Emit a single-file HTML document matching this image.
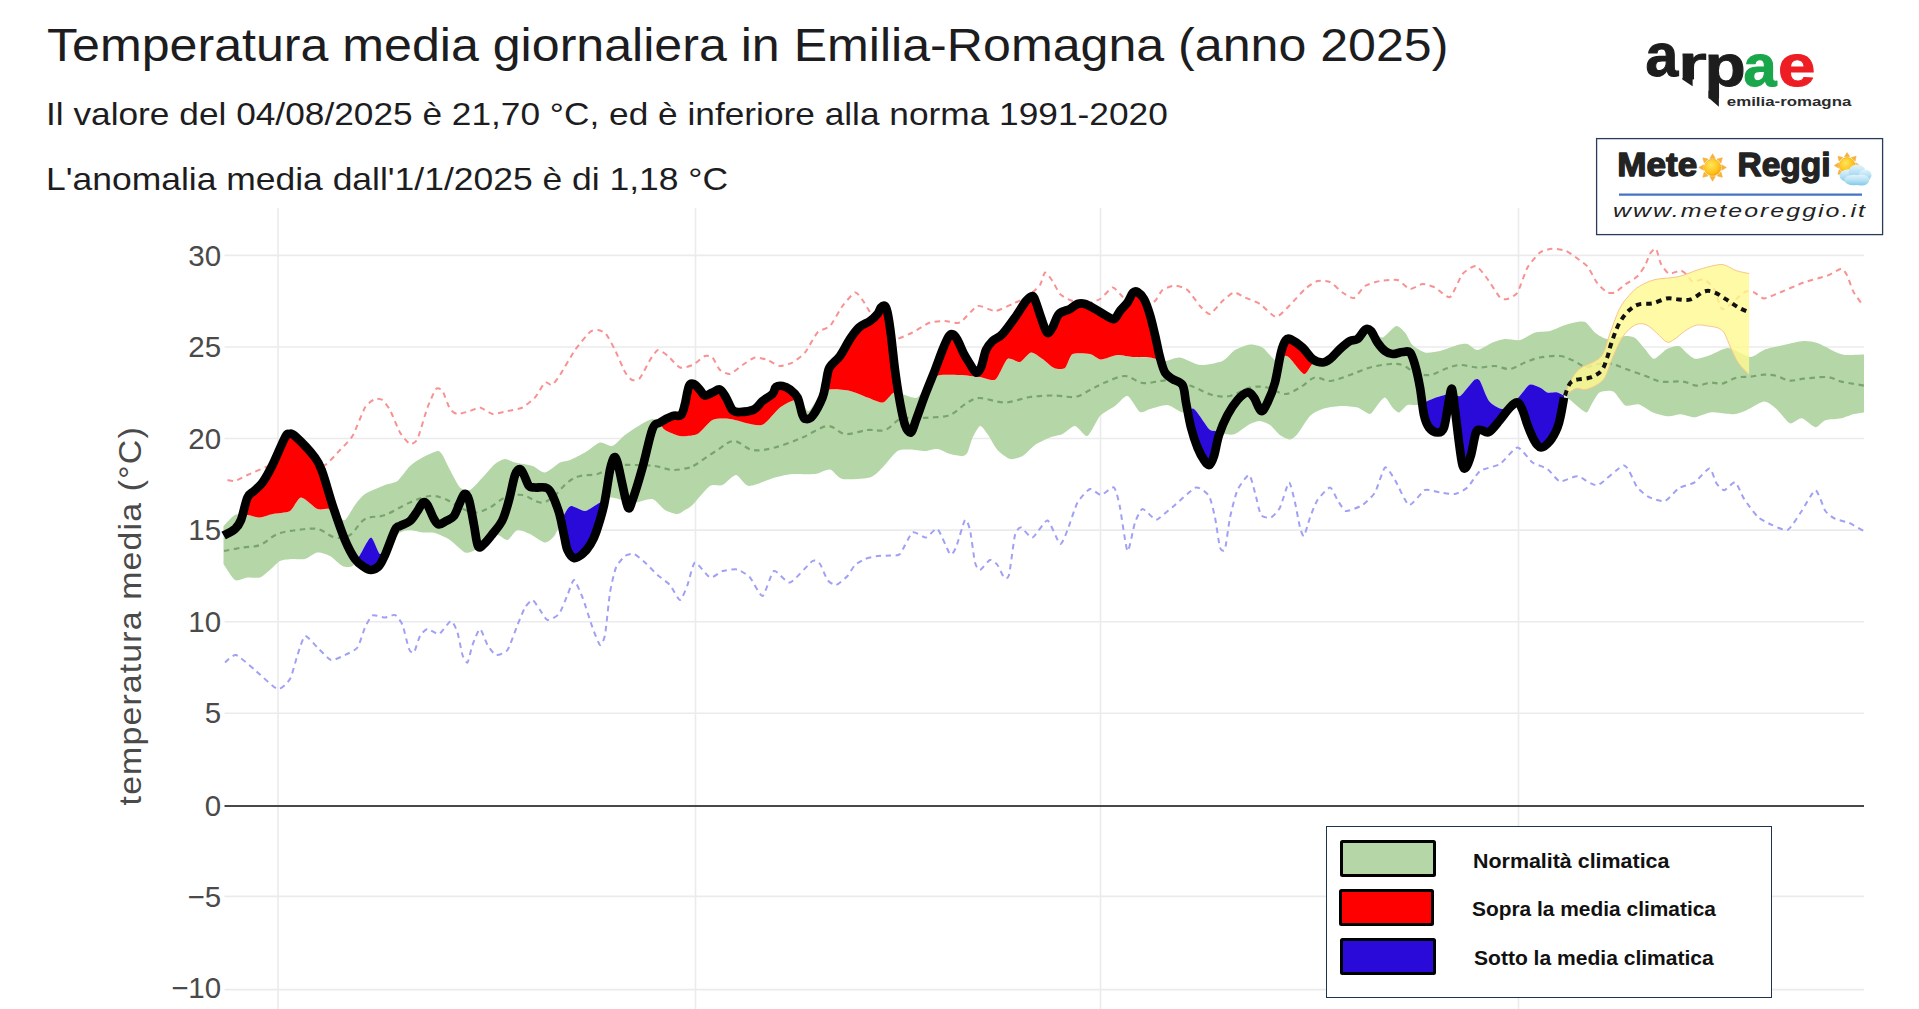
<!DOCTYPE html>
<html lang="it">
<head>
<meta charset="utf-8">
<title>Temperatura media giornaliera in Emilia-Romagna</title>
<style>
html,body{margin:0;padding:0;background:#fff;}
body{width:1919px;height:1009px;position:relative;overflow:hidden;font-family:"Liberation Sans",sans-serif;}
#chart{position:absolute;left:0;top:0;}
#chart text{font-family:"Liberation Sans",sans-serif;}
.t{position:absolute;left:48px;white-space:nowrap;color:#1d1d1f;transform-origin:0 50%;}
#t1{top:19px;left:47px;font-size:45.5px;line-height:54px;transform:scaleX(1.1016);}
#t2{top:95px;left:45.5px;font-size:32px;line-height:38px;transform:scaleX(1.102);}
#t3{top:160px;left:45.5px;font-size:32px;line-height:38px;transform:scaleX(1.108);}
#legend{position:absolute;left:1326px;top:826px;width:446.2px;height:172.3px;border:1.6px solid #1f3350;background:#fff;box-sizing:border-box;}
.sw{position:absolute;width:96.6px;height:37.4px;border:3.9px solid #000;border-radius:2.5px;box-sizing:border-box;}
.lt{position:absolute;font-weight:bold;font-size:20.6px;transform:scaleX(1.015);line-height:24px;color:#111;white-space:nowrap;transform-origin:0 50%;}
#logos{position:absolute;left:0;top:0;}
#logos text{font-family:"Liberation Sans",sans-serif;}
</style>
</head>
<body>
<svg id="chart" width="1919" height="1009" viewBox="0 0 1919 1009">
<defs>
<clipPath id="cBelowLine"><path d="M223.6 535.6 C225.5 534.5 232.1 531.6 235 529 C237.9 526.4 238.9 525.2 241 520 C243.1 514.8 245.3 502.3 247.5 497.5 C249.7 492.7 251.5 493.5 254 491 C256.5 488.5 259.4 486.8 262.5 482.5 C265.6 478.2 268.8 472.5 272.5 465 C276.2 457.5 282.2 442.7 285 437.5 C287.8 432.3 287.3 434.2 289 434 C290.7 433.8 290.7 432.1 295 436 C299.3 439.9 310.4 451.4 315 457.5 C319.6 463.6 319.6 464.6 322.5 472.5 C325.4 480.4 328.8 493.8 332.5 505 C336.2 516.2 341.2 531 345 540 C348.8 549 351.8 554.5 355 559 C358.2 563.5 361.3 565.2 364 567 C366.7 568.8 368.5 570.2 371 570 C373.5 569.8 376.7 568.5 379 566 C381.3 563.5 382.3 561 385 555 C387.7 549 392.5 534.8 395 530 C397.5 525.2 397.5 527.5 400 526 C402.5 524.5 407.1 523.5 410 521 C412.9 518.5 415.3 514.1 417.5 511 C419.7 507.9 421.3 503.5 423 502.5 C424.7 501.5 425.7 502.2 427.5 505 C429.3 507.8 432.1 515.8 434 519 C435.9 522.2 437 524.2 439 524.5 C441 524.8 443.5 522.4 446 521 C448.5 519.6 451.7 519.1 454 516 C456.3 512.9 458.2 506.2 460 502.5 C461.8 498.8 463 494.4 464.5 494 C466 493.6 467.4 494.8 469 500 C470.6 505.2 472.5 517.3 474 525 C475.5 532.7 476.3 542.8 478 546 C479.7 549.2 481.6 546 484 544 C486.4 542 489.4 538 492.5 534 C495.6 530 499.8 525.7 502.5 520 C505.2 514.3 506.9 507.5 509 500 C511.1 492.5 513.2 480.2 515 475 C516.8 469.8 518.5 469 520 469 C521.5 469 522.5 472.2 524 475 C525.5 477.8 527.2 483.9 529 486 C530.8 488.1 532.3 487.2 535 487.5 C537.7 487.8 542.3 486.7 545 487.5 C547.7 488.3 548.7 488.3 551 492.5 C553.3 496.7 556.8 505.4 559 512.5 C561.2 519.6 562.6 528.8 564 535 C565.4 541.2 565.8 546.2 567.5 550 C569.2 553.8 571.5 557.3 574 558 C576.5 558.7 579.8 556.2 582.5 554 C585.2 551.8 587.8 548.6 590 545 C592.2 541.4 593.7 539.2 596 532.5 C598.3 525.8 601.7 515.4 604 505 C606.3 494.6 608.3 477.9 610 470 C611.7 462.1 612.8 458.8 614 457.5 C615.2 456.2 616.1 457.9 617.5 462.5 C618.9 467.1 620.8 477.5 622.5 485 C624.2 492.5 626.3 505 628 507.5 C629.7 510 630.1 506.7 632.5 500 C634.9 493.3 639.2 479.3 642.5 467.5 C645.8 455.7 649.6 436.5 652.5 429 C655.4 421.5 656.7 424.7 660 422.5 C663.3 420.3 669 417.2 672.5 416 C676 414.8 678.9 417 681 415 C683.1 413 683.7 408.8 685 404 C686.3 399.2 687.5 389.3 689 386 C690.5 382.7 692.2 383.3 694 384 C695.8 384.7 698.2 388.1 700 390 C701.8 391.9 702.9 395.1 705 395.5 C707.1 395.9 710 393.5 712.5 392.5 C715 391.5 717.8 388.7 720 389.5 C722.2 390.3 723.9 394.1 726 397.5 C728.1 400.9 730.2 407.6 732.5 410 C734.8 412.4 736.4 412.1 740 412 C743.6 411.9 750.2 411.3 754 409.5 C757.8 407.7 759.4 403.6 762.5 401 C765.6 398.4 770.2 396.3 772.5 394 C774.8 391.7 774.3 388.3 776 387 C777.7 385.7 780.2 385.6 782.5 386 C784.8 386.4 787.5 387.6 790 389.5 C792.5 391.4 795.4 393.2 797.5 397.5 C799.6 401.8 801.1 411.4 802.5 415 C803.9 418.6 804.3 418.8 806 419 C807.7 419.2 809.8 419.6 812.5 416 C815.2 412.4 820.2 403.1 822.5 397.5 C824.8 391.9 824.8 387.5 826 382.5 C827.2 377.5 827.2 371.9 829.5 367.5 C831.8 363.1 836.6 360.8 840 356 C843.4 351.2 846.8 343.8 850 339 C853.2 334.2 855.7 330.5 859 327.5 C862.3 324.5 866.9 323.2 870 321 C873.1 318.8 875.7 316.2 877.5 314 C879.3 311.8 879.8 308.8 881 307.5 C882.2 306.2 883.9 305.2 885 306 C886.1 306.8 886.5 307.7 887.5 312.5 C888.5 317.3 889.8 325.4 891 335 C892.2 344.6 893.5 358.8 895 370 C896.5 381.2 898.3 393.3 900 402.5 C901.7 411.7 903.2 420 905 425 C906.8 430 909.2 433.3 911 432.5 C912.8 431.7 913.5 426.7 916 420 C918.5 413.3 922.8 400.8 926 392.5 C929.2 384.2 932.2 377.1 935 370 C937.8 362.9 940.2 355.7 942.5 350 C944.8 344.3 947.2 338.6 949 336 C950.8 333.4 951.6 333.8 953 334.5 C954.4 335.2 955.7 336.8 957.5 340 C959.3 343.2 961.9 350 964 354 C966.1 358 968 360.9 970 364 C972 367.1 974.2 371.9 976 372.5 C977.8 373.1 979.3 371.2 981 367.5 C982.7 363.8 984.1 354.4 986 350 C987.9 345.6 989.8 343.7 992.5 341 C995.2 338.3 998.8 337.9 1002.5 334 C1006.2 330.1 1011.1 323 1015 317.5 C1018.9 312 1023.1 304.6 1026 301 C1028.9 297.4 1030.8 295.8 1032.5 296 C1034.2 296.2 1034.6 298.9 1036 302.5 C1037.4 306.1 1039.2 312.5 1041 317.5 C1042.8 322.5 1045.1 330.8 1047 332.5 C1048.9 334.2 1050.5 330.6 1052.5 327.5 C1054.5 324.4 1056.1 317.1 1059 314 C1061.9 310.9 1066.9 310.7 1070 309 C1073.1 307.3 1075 304.8 1077.5 304 C1080 303.2 1082.1 303.2 1085 304 C1087.9 304.8 1091.7 307.2 1095 309 C1098.3 310.8 1101.8 313.3 1105 315 C1108.2 316.7 1111.5 319.7 1114 319 C1116.5 318.3 1117.8 313.8 1120 311 C1122.2 308.2 1125.3 305.6 1127.5 302.5 C1129.7 299.4 1131.3 294.2 1133 292.5 C1134.7 290.8 1135.7 290.9 1137.5 292 C1139.3 293.1 1141.9 295.2 1144 299 C1146.1 302.8 1148.2 309 1150 315 C1151.8 321 1153.3 327.9 1155 335 C1156.7 342.1 1158.3 351.2 1160 357.5 C1161.7 363.8 1162.9 368.9 1165 372.5 C1167.1 376.1 1169.6 376.9 1172.5 379 C1175.4 381.1 1180.2 381.1 1182.5 385 C1184.8 388.9 1184.6 395.4 1186 402.5 C1187.4 409.6 1189.1 420 1191 427.5 C1192.9 435 1195.3 442.1 1197.5 447.5 C1199.7 452.9 1202 457.1 1204 460 C1206 462.9 1207.8 465.7 1209.5 465 C1211.2 464.3 1212.4 461 1214 456 C1215.6 451 1216.8 441.8 1219 435 C1221.2 428.2 1224.4 420.8 1227.5 415 C1230.6 409.2 1234.2 403.8 1237.5 400 C1240.8 396.2 1244.8 392.9 1247.5 392.5 C1250.2 392.1 1251.8 394.4 1254 397.5 C1256.2 400.6 1258.8 410.2 1261 411 C1263.2 411.8 1265.2 407.2 1267.5 402.5 C1269.8 397.8 1272.8 390.8 1275 382.5 C1277.2 374.2 1279.2 359.6 1281 352.5 C1282.8 345.4 1284.3 342.2 1286 340 C1287.7 337.8 1288.2 338.2 1291 339.5 C1293.8 340.8 1298.9 344.2 1302.5 347.5 C1306.1 350.8 1309.2 356.5 1312.5 359 C1315.8 361.5 1319.6 362.5 1322.5 362.5 C1325.4 362.5 1327.1 361.2 1330 359 C1332.9 356.8 1336.7 352 1340 349 C1343.3 346 1347.1 342.7 1350 341 C1352.9 339.3 1354.9 340.9 1357.5 339 C1360.1 337.1 1363.2 330.8 1365.5 329.5 C1367.8 328.2 1369 328.8 1371 331 C1373 333.2 1375.2 339.2 1377.5 342.5 C1379.8 345.8 1382.5 349.1 1385 351 C1387.5 352.9 1389.6 353.8 1392.5 354 C1395.4 354.2 1399.6 352.2 1402.5 352 C1405.4 351.8 1407.9 350.3 1410 352.5 C1412.1 354.7 1413.3 359.2 1415 365 C1416.7 370.8 1418.5 379.2 1420 387.5 C1421.5 395.8 1422.5 408.3 1424 415 C1425.5 421.7 1426.8 424.6 1429 427.5 C1431.2 430.4 1435 432.5 1437.5 432.5 C1440 432.5 1442.1 432.9 1444 427.5 C1445.9 422.1 1447.7 406.4 1449 400 C1450.3 393.6 1451 387.3 1452 389 C1453 390.7 1453.8 401.1 1455 410 C1456.2 418.9 1457.8 433.3 1459 442.5 C1460.2 451.7 1461.3 460.8 1462.5 465 C1463.7 469.2 1464.6 469.2 1466 467.5 C1467.4 465.8 1469.3 460.8 1471 455 C1472.7 449.2 1474.3 436.7 1476 432.5 C1477.7 428.3 1478.8 430.1 1481 430 C1483.2 429.9 1485.8 433.7 1489 432 C1492.2 430.3 1496.5 424.1 1500 420 C1503.5 415.9 1507.1 410.4 1510 407.5 C1512.9 404.6 1515.4 402.1 1517.5 402.5 C1519.6 402.9 1520.8 406.2 1522.5 410 C1524.2 413.8 1525.6 420 1527.5 425 C1529.4 430 1531.8 436.2 1534 440 C1536.2 443.8 1538.3 447.3 1541 447.5 C1543.7 447.7 1547.2 444.3 1550 441 C1552.8 437.7 1555.7 432 1557.5 427.5 C1559.3 423 1559.9 419 1561 414 C1562.1 409 1563.5 400.2 1564 397.5 L1564 1009 L223 1009 Z"/></clipPath>
<clipPath id="cAboveLine"><path d="M223.6 535.6 C225.5 534.5 232.1 531.6 235 529 C237.9 526.4 238.9 525.2 241 520 C243.1 514.8 245.3 502.3 247.5 497.5 C249.7 492.7 251.5 493.5 254 491 C256.5 488.5 259.4 486.8 262.5 482.5 C265.6 478.2 268.8 472.5 272.5 465 C276.2 457.5 282.2 442.7 285 437.5 C287.8 432.3 287.3 434.2 289 434 C290.7 433.8 290.7 432.1 295 436 C299.3 439.9 310.4 451.4 315 457.5 C319.6 463.6 319.6 464.6 322.5 472.5 C325.4 480.4 328.8 493.8 332.5 505 C336.2 516.2 341.2 531 345 540 C348.8 549 351.8 554.5 355 559 C358.2 563.5 361.3 565.2 364 567 C366.7 568.8 368.5 570.2 371 570 C373.5 569.8 376.7 568.5 379 566 C381.3 563.5 382.3 561 385 555 C387.7 549 392.5 534.8 395 530 C397.5 525.2 397.5 527.5 400 526 C402.5 524.5 407.1 523.5 410 521 C412.9 518.5 415.3 514.1 417.5 511 C419.7 507.9 421.3 503.5 423 502.5 C424.7 501.5 425.7 502.2 427.5 505 C429.3 507.8 432.1 515.8 434 519 C435.9 522.2 437 524.2 439 524.5 C441 524.8 443.5 522.4 446 521 C448.5 519.6 451.7 519.1 454 516 C456.3 512.9 458.2 506.2 460 502.5 C461.8 498.8 463 494.4 464.5 494 C466 493.6 467.4 494.8 469 500 C470.6 505.2 472.5 517.3 474 525 C475.5 532.7 476.3 542.8 478 546 C479.7 549.2 481.6 546 484 544 C486.4 542 489.4 538 492.5 534 C495.6 530 499.8 525.7 502.5 520 C505.2 514.3 506.9 507.5 509 500 C511.1 492.5 513.2 480.2 515 475 C516.8 469.8 518.5 469 520 469 C521.5 469 522.5 472.2 524 475 C525.5 477.8 527.2 483.9 529 486 C530.8 488.1 532.3 487.2 535 487.5 C537.7 487.8 542.3 486.7 545 487.5 C547.7 488.3 548.7 488.3 551 492.5 C553.3 496.7 556.8 505.4 559 512.5 C561.2 519.6 562.6 528.8 564 535 C565.4 541.2 565.8 546.2 567.5 550 C569.2 553.8 571.5 557.3 574 558 C576.5 558.7 579.8 556.2 582.5 554 C585.2 551.8 587.8 548.6 590 545 C592.2 541.4 593.7 539.2 596 532.5 C598.3 525.8 601.7 515.4 604 505 C606.3 494.6 608.3 477.9 610 470 C611.7 462.1 612.8 458.8 614 457.5 C615.2 456.2 616.1 457.9 617.5 462.5 C618.9 467.1 620.8 477.5 622.5 485 C624.2 492.5 626.3 505 628 507.5 C629.7 510 630.1 506.7 632.5 500 C634.9 493.3 639.2 479.3 642.5 467.5 C645.8 455.7 649.6 436.5 652.5 429 C655.4 421.5 656.7 424.7 660 422.5 C663.3 420.3 669 417.2 672.5 416 C676 414.8 678.9 417 681 415 C683.1 413 683.7 408.8 685 404 C686.3 399.2 687.5 389.3 689 386 C690.5 382.7 692.2 383.3 694 384 C695.8 384.7 698.2 388.1 700 390 C701.8 391.9 702.9 395.1 705 395.5 C707.1 395.9 710 393.5 712.5 392.5 C715 391.5 717.8 388.7 720 389.5 C722.2 390.3 723.9 394.1 726 397.5 C728.1 400.9 730.2 407.6 732.5 410 C734.8 412.4 736.4 412.1 740 412 C743.6 411.9 750.2 411.3 754 409.5 C757.8 407.7 759.4 403.6 762.5 401 C765.6 398.4 770.2 396.3 772.5 394 C774.8 391.7 774.3 388.3 776 387 C777.7 385.7 780.2 385.6 782.5 386 C784.8 386.4 787.5 387.6 790 389.5 C792.5 391.4 795.4 393.2 797.5 397.5 C799.6 401.8 801.1 411.4 802.5 415 C803.9 418.6 804.3 418.8 806 419 C807.7 419.2 809.8 419.6 812.5 416 C815.2 412.4 820.2 403.1 822.5 397.5 C824.8 391.9 824.8 387.5 826 382.5 C827.2 377.5 827.2 371.9 829.5 367.5 C831.8 363.1 836.6 360.8 840 356 C843.4 351.2 846.8 343.8 850 339 C853.2 334.2 855.7 330.5 859 327.5 C862.3 324.5 866.9 323.2 870 321 C873.1 318.8 875.7 316.2 877.5 314 C879.3 311.8 879.8 308.8 881 307.5 C882.2 306.2 883.9 305.2 885 306 C886.1 306.8 886.5 307.7 887.5 312.5 C888.5 317.3 889.8 325.4 891 335 C892.2 344.6 893.5 358.8 895 370 C896.5 381.2 898.3 393.3 900 402.5 C901.7 411.7 903.2 420 905 425 C906.8 430 909.2 433.3 911 432.5 C912.8 431.7 913.5 426.7 916 420 C918.5 413.3 922.8 400.8 926 392.5 C929.2 384.2 932.2 377.1 935 370 C937.8 362.9 940.2 355.7 942.5 350 C944.8 344.3 947.2 338.6 949 336 C950.8 333.4 951.6 333.8 953 334.5 C954.4 335.2 955.7 336.8 957.5 340 C959.3 343.2 961.9 350 964 354 C966.1 358 968 360.9 970 364 C972 367.1 974.2 371.9 976 372.5 C977.8 373.1 979.3 371.2 981 367.5 C982.7 363.8 984.1 354.4 986 350 C987.9 345.6 989.8 343.7 992.5 341 C995.2 338.3 998.8 337.9 1002.5 334 C1006.2 330.1 1011.1 323 1015 317.5 C1018.9 312 1023.1 304.6 1026 301 C1028.9 297.4 1030.8 295.8 1032.5 296 C1034.2 296.2 1034.6 298.9 1036 302.5 C1037.4 306.1 1039.2 312.5 1041 317.5 C1042.8 322.5 1045.1 330.8 1047 332.5 C1048.9 334.2 1050.5 330.6 1052.5 327.5 C1054.5 324.4 1056.1 317.1 1059 314 C1061.9 310.9 1066.9 310.7 1070 309 C1073.1 307.3 1075 304.8 1077.5 304 C1080 303.2 1082.1 303.2 1085 304 C1087.9 304.8 1091.7 307.2 1095 309 C1098.3 310.8 1101.8 313.3 1105 315 C1108.2 316.7 1111.5 319.7 1114 319 C1116.5 318.3 1117.8 313.8 1120 311 C1122.2 308.2 1125.3 305.6 1127.5 302.5 C1129.7 299.4 1131.3 294.2 1133 292.5 C1134.7 290.8 1135.7 290.9 1137.5 292 C1139.3 293.1 1141.9 295.2 1144 299 C1146.1 302.8 1148.2 309 1150 315 C1151.8 321 1153.3 327.9 1155 335 C1156.7 342.1 1158.3 351.2 1160 357.5 C1161.7 363.8 1162.9 368.9 1165 372.5 C1167.1 376.1 1169.6 376.9 1172.5 379 C1175.4 381.1 1180.2 381.1 1182.5 385 C1184.8 388.9 1184.6 395.4 1186 402.5 C1187.4 409.6 1189.1 420 1191 427.5 C1192.9 435 1195.3 442.1 1197.5 447.5 C1199.7 452.9 1202 457.1 1204 460 C1206 462.9 1207.8 465.7 1209.5 465 C1211.2 464.3 1212.4 461 1214 456 C1215.6 451 1216.8 441.8 1219 435 C1221.2 428.2 1224.4 420.8 1227.5 415 C1230.6 409.2 1234.2 403.8 1237.5 400 C1240.8 396.2 1244.8 392.9 1247.5 392.5 C1250.2 392.1 1251.8 394.4 1254 397.5 C1256.2 400.6 1258.8 410.2 1261 411 C1263.2 411.8 1265.2 407.2 1267.5 402.5 C1269.8 397.8 1272.8 390.8 1275 382.5 C1277.2 374.2 1279.2 359.6 1281 352.5 C1282.8 345.4 1284.3 342.2 1286 340 C1287.7 337.8 1288.2 338.2 1291 339.5 C1293.8 340.8 1298.9 344.2 1302.5 347.5 C1306.1 350.8 1309.2 356.5 1312.5 359 C1315.8 361.5 1319.6 362.5 1322.5 362.5 C1325.4 362.5 1327.1 361.2 1330 359 C1332.9 356.8 1336.7 352 1340 349 C1343.3 346 1347.1 342.7 1350 341 C1352.9 339.3 1354.9 340.9 1357.5 339 C1360.1 337.1 1363.2 330.8 1365.5 329.5 C1367.8 328.2 1369 328.8 1371 331 C1373 333.2 1375.2 339.2 1377.5 342.5 C1379.8 345.8 1382.5 349.1 1385 351 C1387.5 352.9 1389.6 353.8 1392.5 354 C1395.4 354.2 1399.6 352.2 1402.5 352 C1405.4 351.8 1407.9 350.3 1410 352.5 C1412.1 354.7 1413.3 359.2 1415 365 C1416.7 370.8 1418.5 379.2 1420 387.5 C1421.5 395.8 1422.5 408.3 1424 415 C1425.5 421.7 1426.8 424.6 1429 427.5 C1431.2 430.4 1435 432.5 1437.5 432.5 C1440 432.5 1442.1 432.9 1444 427.5 C1445.9 422.1 1447.7 406.4 1449 400 C1450.3 393.6 1451 387.3 1452 389 C1453 390.7 1453.8 401.1 1455 410 C1456.2 418.9 1457.8 433.3 1459 442.5 C1460.2 451.7 1461.3 460.8 1462.5 465 C1463.7 469.2 1464.6 469.2 1466 467.5 C1467.4 465.8 1469.3 460.8 1471 455 C1472.7 449.2 1474.3 436.7 1476 432.5 C1477.7 428.3 1478.8 430.1 1481 430 C1483.2 429.9 1485.8 433.7 1489 432 C1492.2 430.3 1496.5 424.1 1500 420 C1503.5 415.9 1507.1 410.4 1510 407.5 C1512.9 404.6 1515.4 402.1 1517.5 402.5 C1519.6 402.9 1520.8 406.2 1522.5 410 C1524.2 413.8 1525.6 420 1527.5 425 C1529.4 430 1531.8 436.2 1534 440 C1536.2 443.8 1538.3 447.3 1541 447.5 C1543.7 447.7 1547.2 444.3 1550 441 C1552.8 437.7 1555.7 432 1557.5 427.5 C1559.3 423 1559.9 419 1561 414 C1562.1 409 1563.5 400.2 1564 397.5 L1564 0 L223 0 Z"/></clipPath>
<clipPath id="cAboveUpper"><path d="M223.5 526 C224.8 524.7 232.2 516.3 235 515 C237.8 513.7 244.6 514.7 247.5 515 C250.4 515.3 257.1 517.6 260 517.5 C262.9 517.4 269 514.8 272.5 514 C276 513.2 286.7 512.9 290 511 C293.3 509.1 297.8 497.7 301 497.5 C304.2 497.3 314.2 507.7 317.5 509 C320.8 510.3 326.8 508.3 329 509 C331.2 509.7 334.1 513.7 336 515 C337.9 516.3 342.8 521.2 345 520 C347.2 518.8 352.7 508 355 505 C357.3 502 361.5 496.3 365 494 C368.5 491.7 381.2 486.5 385 485 C388.8 483.5 394.6 483.2 397.5 481 C400.4 478.8 407.1 468.7 410 466 C412.9 463.3 419.3 459.2 422.5 457.5 C425.7 455.8 435.2 451.3 437.5 451 C439.8 450.7 441 452.8 442.5 455 C444 457.2 448 466.2 450 470 C452 473.8 457.7 485.2 460 487.5 C462.3 489.8 467.4 491.2 470 490 C472.6 488.8 479.6 480.5 482.5 477.5 C485.4 474.5 492.4 466.2 495 464 C497.6 461.8 502.7 459.2 505 459 C507.3 458.8 511.8 461.7 515 462.5 C518.2 463.3 529 464.8 532.5 466 C536 467.2 541.8 472.9 545 472.5 C548.2 472.1 557.1 464 560 462.5 C562.9 461 567.1 461.2 570 460 C572.9 458.8 581.5 454.5 585 452.5 C588.5 450.5 596.8 443.3 600 442.5 C603.2 441.7 609.6 446.9 612.5 446 C615.4 445.1 621.8 437.4 625 435 C628.2 432.6 636.8 426.9 640 425 C643.2 423.1 650.2 419.1 652.5 419 C654.8 418.9 658.5 422.7 660 424 C661.5 425.3 662.7 428.6 665 430 C667.3 431.4 676.2 435.5 680 436 C683.8 436.5 693.7 435.9 697.5 434 C701.3 432.1 708.7 421.8 712.5 420 C716.3 418.2 725.3 418.5 730 419 C734.7 419.5 748.5 423.9 752.5 424.5 C756.5 425.1 760.8 426 764 424 C767.2 422 776.4 410.3 780 407.5 C783.6 404.7 792.3 400.3 795 400 C797.7 399.7 801.4 403.7 803 405 C804.6 406.3 807 412.2 809 411 C811 409.8 817.5 397.5 820 395 C822.5 392.5 826.5 390 830 389.5 C833.5 389 845.6 390.1 850 391 C854.4 391.9 863.6 396.2 867.5 397.5 C871.4 398.8 879.9 403.1 883 402.5 C886.1 401.9 891.4 393.4 894 392.5 C896.6 391.6 902.3 394.4 905 395 C907.7 395.6 914.6 399.2 917.5 397.5 C920.4 395.8 927.4 382.6 930 380 C932.6 377.4 936.5 375.6 940 375 C943.5 374.4 955.3 374.8 960 375 C964.7 375.2 975.9 376.5 980 377 C984.1 377.5 992.3 381.6 995.5 379.5 C998.7 377.4 1004.6 361 1007.5 359 C1010.4 357 1017.3 362.8 1020 362 C1022.7 361.2 1028.4 352.9 1031 352.5 C1033.6 352.1 1039.8 357.2 1042.5 359 C1045.2 360.8 1051.4 366.9 1054 368 C1056.6 369.1 1062.8 369.6 1065 368 C1067.2 366.4 1069.6 355.6 1072.5 354 C1075.4 352.4 1086.7 353.4 1090 354 C1093.3 354.6 1097.8 359.4 1101 359.5 C1104.2 359.6 1113.8 355.3 1117.5 355 C1121.2 354.7 1128.7 356.7 1132.5 357 C1136.3 357.3 1146.2 357 1150 357.5 C1153.8 358 1161.5 361 1165 361 C1168.5 361 1175.9 357 1180 357.5 C1184.1 358 1195 364.6 1200 365 C1205 365.4 1218.4 362.8 1222.5 361 C1226.6 359.2 1231.8 351.9 1235 350 C1238.2 348.1 1246.8 344.8 1250 344.5 C1253.2 344.2 1259.6 345.7 1262.5 347.5 C1265.4 349.3 1272.7 359 1275 360 C1277.3 361 1280.4 356.3 1282 356 C1283.6 355.7 1286.4 355.4 1289 357.5 C1291.6 359.6 1301.3 373.2 1304 374 C1306.7 374.8 1310.4 365.2 1312.5 364 C1314.6 362.8 1320 364.6 1322 364 C1324 363.4 1327.9 361 1330 359 C1332.1 357 1337.7 349.3 1340 347 C1342.3 344.7 1348 340.3 1350 339 C1352 337.7 1355.6 337.3 1357.5 336 C1359.4 334.7 1364.3 328.7 1366 328 C1367.7 327.3 1370.1 328.9 1372 330 C1373.9 331.1 1379.7 338 1382.5 337.5 C1385.3 337 1393.4 326.6 1396 326 C1398.6 325.4 1403.1 330.3 1405 332.5 C1406.9 334.7 1410.2 342.7 1412.5 345 C1414.8 347.3 1421.8 351.8 1425 352.5 C1428.2 353.2 1436.2 351.9 1440 351 C1443.8 350.1 1454.3 345.8 1457.5 345 C1460.7 344.2 1465.2 343.4 1467.5 344 C1469.8 344.6 1474.6 350.2 1477.5 350 C1480.4 349.8 1489.3 343.8 1492.5 342.5 C1495.7 341.2 1501.8 339.3 1505 339 C1508.2 338.7 1516.5 340.8 1520 340 C1523.5 339.2 1531.5 333.6 1535 332.5 C1538.5 331.4 1546.5 331.9 1550 331 C1553.5 330.1 1563.2 325.7 1565 325 L1565 0 L223 0 Z"/></clipPath>
<clipPath id="cBelowLower"><path d="M223.5 564 C224.8 565.9 232.2 578.4 235 580 C237.8 581.6 244.6 577.8 247.5 577.5 C250.4 577.2 257.4 578.4 260 577.5 C262.6 576.6 267.7 571.9 270 570 C272.3 568.1 277.4 562.3 280 561 C282.6 559.7 289.6 559.2 292.5 559 C295.4 558.8 302.1 559.8 305 559 C307.9 558.2 314.6 552.9 317.5 552.5 C320.4 552.1 327.1 554.4 330 556 C332.9 557.6 339.9 564.8 342.5 566 C345.1 567.2 350.5 567.3 352.5 566 C354.5 564.7 357.8 558.3 360 555 C362.2 551.7 368.7 537.6 371 537.5 C373.3 537.4 378 553.1 380 554 C382 554.9 385.7 547.5 388 545 C390.3 542.5 397.4 534.2 400 532.5 C402.6 530.8 407.4 530 410 530 C412.6 530 419.6 532.1 422.5 532.5 C425.4 532.9 431.8 532.1 435 533 C438.2 533.9 446.5 537.7 450 540 C453.5 542.3 462.1 551.3 465 552.5 C467.9 553.7 472.7 551.5 475 550 C477.3 548.5 482.4 541.8 485 540 C487.6 538.2 494.9 535 497.5 535 C500.1 535 505.2 540.6 507.5 540 C509.8 539.4 514.9 530.7 517.5 530 C520.1 529.3 526.8 532.5 530 534 C533.2 535.5 542.1 542.4 545 542.5 C547.9 542.6 552.8 538.2 555 535 C557.2 531.8 562.1 518.4 564 515 C565.9 511.6 568.5 506.5 571 506 C573.5 505.5 581.9 511.2 585 511 C588.1 510.8 594.6 505.6 597.5 504 C600.4 502.4 607.1 498 610 497.5 C612.9 497 619.6 499.4 622.5 500 C625.4 500.6 631.5 502.6 635 502.5 C638.5 502.4 649 498.1 652.5 499 C656 499.9 662.1 508.2 665 510 C667.9 511.8 675.2 514 677.5 514 C679.8 514 683.2 511.1 685 510 C686.8 508.9 689.6 507.8 692.5 505 C695.4 502.2 706.5 488.3 710 486 C713.5 483.7 719.5 486.3 722.5 485 C725.5 483.7 732.9 474.9 736 475 C739.1 475.1 744.5 485.7 749 486 C753.5 486.3 769.9 478.9 775 477.5 C780.1 476.1 787.8 474.4 792.5 474 C797.2 473.6 810.6 474.5 815 474 C819.4 473.5 826.8 468.9 830 469.5 C833.2 470.1 837.8 478.1 842.5 479 C847.2 479.9 865.3 478.8 870 477.5 C874.7 476.2 879.3 470.6 882.5 467.5 C885.7 464.4 894.3 453.1 897.5 451 C900.7 448.9 906.8 449.5 910 449.5 C913.2 449.5 921.8 451.1 925 451 C928.2 450.9 934.6 448.6 937.5 449 C940.4 449.4 947.1 453.2 950 454 C952.9 454.8 960.5 456.2 962.5 456 C964.5 455.8 966.3 454.6 967.5 452.5 C968.7 450.4 971 441.1 972.5 438 C974 434.9 978.2 426.5 980 426 C981.8 425.5 985.5 431.2 987.5 434 C989.5 436.8 994.9 447.1 997.5 450 C1000.1 452.9 1007.1 458.3 1010 459 C1012.9 459.7 1019.6 457.6 1022.5 456 C1025.4 454.4 1031.8 447.2 1035 445 C1038.2 442.8 1046.8 438.8 1050 437.5 C1053.2 436.2 1059.6 435.3 1062.5 434 C1065.4 432.7 1072.1 425.8 1075 426 C1077.9 426.2 1084.6 437.2 1087.5 436 C1090.4 434.8 1096.8 419.5 1100 416 C1103.2 412.5 1111.8 408.3 1115 406 C1118.2 403.7 1124.6 395.3 1127.5 396 C1130.4 396.7 1137.4 410.5 1140 412 C1142.6 413.5 1146.8 409.8 1150 409 C1153.2 408.2 1163.7 404.6 1167.5 405 C1171.3 405.4 1179.4 412 1182.5 412.5 C1185.6 413 1190.9 407.1 1194 409 C1197.1 410.9 1206.5 426.4 1209 429 C1211.5 431.6 1213.1 430.4 1215 431 C1216.9 431.6 1222.7 433.6 1225 434 C1227.3 434.4 1232.1 435.2 1235 434 C1237.9 432.8 1247.1 425.5 1250 424 C1252.9 422.5 1257.7 420.9 1260 421 C1262.3 421.1 1267.7 423.4 1270 425 C1272.3 426.6 1277.7 433.3 1280 435 C1282.3 436.7 1288 439.6 1290 439.5 C1292 439.4 1295.2 436.7 1297.5 434 C1299.8 431.3 1307.1 418.9 1310 416 C1312.9 413.1 1319 410.2 1322.5 409 C1326 407.8 1335.9 406.2 1340 406 C1344.1 405.8 1354 406.6 1357.5 407.5 C1361 408.4 1367.7 414.3 1370 414 C1372.3 413.7 1375.8 406.9 1377.5 405 C1379.2 403.1 1383.2 397.2 1385 397.5 C1386.8 397.8 1390.9 405.8 1392.5 407.5 C1394.1 409.2 1397.2 412.8 1399 412.5 C1400.8 412.2 1405.3 405.9 1407.5 405 C1409.7 404.1 1415.2 405.5 1417.5 405 C1419.8 404.5 1425.2 401.9 1427.5 401 C1429.8 400.1 1434.9 397.8 1437.5 397 C1440.1 396.2 1447.4 394.1 1450 394 C1452.6 393.9 1457.8 396.9 1460 396 C1462.2 395.1 1467.2 387.9 1469 386 C1470.8 384.1 1473.7 380.1 1475 379.5 C1476.3 378.9 1478.4 378.5 1480 381 C1481.6 383.5 1486.4 397.7 1489 401 C1491.6 404.3 1499.3 409.1 1502.5 409 C1505.7 408.9 1513.7 401.9 1516 400 C1518.3 398.1 1520.9 394.3 1522.5 392.5 C1524.1 390.7 1528 385.1 1530 384.5 C1532 383.9 1538 386.6 1540 387.5 C1542 388.4 1545.5 391.9 1547.5 392.5 C1549.5 393.1 1555.4 392 1557.5 392.5 C1559.6 393 1564.8 396 1565.8 396.5 L1565.8 1009 L223 1009 Z"/></clipPath>
</defs>
<g stroke="#ebebed" stroke-width="1.6" fill="none"><line x1="278" y1="208" x2="278" y2="1009"/><line x1="695.5" y1="208" x2="695.5" y2="1009"/><line x1="1100.5" y1="208" x2="1100.5" y2="1009"/><line x1="1518.5" y1="208" x2="1518.5" y2="1009"/><line x1="224.5" y1="255.4" x2="1864" y2="255.4"/><line x1="224.5" y1="347" x2="1864" y2="347"/><line x1="224.5" y1="438.5" x2="1864" y2="438.5"/><line x1="224.5" y1="530.1" x2="1864" y2="530.1"/><line x1="224.5" y1="621.7" x2="1864" y2="621.7"/><line x1="224.5" y1="713.2" x2="1864" y2="713.2"/><line x1="224.5" y1="896.4" x2="1864" y2="896.4"/><line x1="224.5" y1="989.6" x2="1864" y2="989.6"/></g>
<line x1="224.5" y1="806" x2="1864" y2="806" stroke="#484848" stroke-width="2"/>
<path d="M227.5 480 C228.2 480.1 233 481.5 235 481 C237 480.5 244.5 476.4 247.5 475 C250.5 473.6 261.8 468.8 265 467.5 C268.2 466.2 276.5 462.9 280 462 C283.5 461.1 296.8 458 300 458 C303.2 458 309.5 461.3 312 462 C314.5 462.7 322.2 466.2 325 465 C327.8 463.8 337.2 452.9 340 450 C342.8 447.1 350 440.2 352.5 436 C355 431.8 362.8 411.2 365 407.5 C367.2 403.8 373.2 399.8 375 399 C376.8 398.2 381 398.9 382.5 400 C384 401.1 388.2 406.8 390 410 C391.8 413.2 398 429.1 400 432.5 C402 435.9 408.2 443.4 410 444 C411.8 444.6 415.8 442.6 417.5 439 C419.2 435.4 425.6 412.5 427.5 407.5 C429.4 402.5 434.5 390.6 436 389 C437.5 387.4 441.1 389 442.5 391 C443.9 393 448.5 406.7 450 409 C451.5 411.3 455.5 413.8 457.5 414 C459.5 414.2 467.8 411.6 470 411 C472.2 410.4 477.8 407.2 480 407.5 C482.2 407.8 489.8 413.6 492.5 414 C495.2 414.4 504.5 411.6 507.5 411 C510.5 410.4 519.8 408.9 522.5 407.5 C525.2 406.1 532.8 400 535 397.5 C537.2 395 543.3 383.8 545 382.5 C546.7 381.2 550.5 385.8 552 385 C553.5 384.2 557.7 378.5 560 375 C562.3 371.5 572 354.3 575 350 C578 345.7 587.7 334 590 332 C592.3 330 596.4 329.8 598 330 C599.6 330.2 604.3 332 606 334 C607.7 336 613.1 346.2 615 350 C616.9 353.8 623.3 369 625 372 C626.7 375 630.5 379.4 632 380 C633.5 380.6 638.2 380 640 378 C641.8 376 648.2 362.8 650 360 C651.8 357.2 656.2 350.4 658 350 C659.8 349.6 665.8 354.2 668 356 C670.2 357.8 677.5 366.6 680 367.5 C682.5 368.4 690 366.1 692.5 365 C695 363.9 703 356.8 705 356 C707 355.2 711 356.1 712.5 357.5 C714 358.9 718.2 368.4 720 370 C721.8 371.6 727.8 374.5 730 374 C732.2 373.5 740 366.6 742.5 365 C745 363.4 752.5 358 755 357.5 C757.5 357 765 359.1 767.5 360 C770 360.9 777.5 365.8 780 366 C782.5 366.2 790 363.9 792.5 362.5 C795 361.1 802.5 355.5 805 352.5 C807.5 349.5 815 335.1 817.5 332.5 C820 329.9 827.5 328.6 830 326 C832.5 323.4 840 309.4 842.5 306 C845 302.6 853 293.1 855 292.5 C857 291.9 860.9 297.9 862.5 300 C864.1 302.1 869.2 311 871 314 C872.8 317 878.3 327.4 880 330 C881.7 332.6 886.2 339.1 888 340 C889.8 340.9 895 339.8 897.5 339 C900 338.2 909.2 334.1 912.5 332.5 C915.8 330.9 926.8 323.6 930 322.5 C933.2 321.4 942 321 945 321 C948 321 956.8 324 960 322.5 C963.2 321 974 307.1 977.5 306 C981 304.9 991.5 311.2 995 311 C998.5 310.8 1009.2 305.5 1012.5 304 C1015.8 302.5 1025.2 297.9 1028 296 C1030.8 294.1 1038.3 287.4 1040 285 C1041.7 282.6 1043.8 272.9 1045 272.5 C1046.2 272.1 1051 278.9 1052.5 281 C1054 283.1 1058.2 292.1 1060 294 C1061.8 295.9 1067.5 299 1070 300 C1072.5 301 1082 304.1 1085 304 C1088 303.9 1097.2 300.6 1100 299 C1102.8 297.4 1110.5 288 1112.5 287.5 C1114.5 287 1118.2 292.4 1120 294 C1121.8 295.6 1127.5 302.8 1130 304 C1132.5 305.2 1142.5 306.3 1145 306 C1147.5 305.7 1153.2 302.6 1155 301 C1156.8 299.4 1160.5 291.6 1162.5 290 C1164.5 288.4 1172.5 285.5 1175 285.5 C1177.5 285.5 1185 287.9 1187.5 290 C1190 292.1 1197.8 303.6 1200 306 C1202.2 308.4 1207.8 314.5 1210 314 C1212.2 313.5 1220.1 303.1 1222.5 301 C1224.9 298.9 1231.8 292.9 1234 292.5 C1236.2 292.1 1242.4 296.4 1245 297.5 C1247.6 298.6 1256.9 302.1 1260 304 C1263.1 305.9 1273 316.9 1276 317 C1279 317.1 1287.1 307.8 1290 305 C1292.9 302.2 1302.2 291.4 1305 289 C1307.8 286.6 1315 281.7 1317.5 281 C1320 280.3 1327.5 280.9 1330 282 C1332.5 283.1 1340.1 290.9 1342.5 292.5 C1344.9 294.1 1351.8 298.6 1354 298 C1356.2 297.4 1362.4 287.7 1365 286 C1367.6 284.3 1376.8 281.6 1380 281 C1383.2 280.4 1394.5 279.2 1397.5 280 C1400.5 280.8 1407.5 288.6 1410 289 C1412.5 289.4 1420 284.1 1422.5 284 C1425 283.9 1432.2 286.2 1435 287.5 C1437.8 288.8 1447.2 298.4 1450 297 C1452.8 295.6 1459.9 277.1 1462.5 274 C1465.1 270.9 1473.5 265.5 1476 266 C1478.5 266.5 1485.1 275.9 1487.5 279 C1489.9 282.1 1498 295.5 1500 297.5 C1502 299.5 1505.8 299.5 1507.5 299 C1509.2 298.5 1515.5 295.6 1517.5 292.5 C1519.5 289.4 1525.2 271.5 1527.5 267.5 C1529.8 263.5 1537.6 254.4 1540 252.5 C1542.4 250.6 1549.3 249 1551.9 248.8 C1554.5 248.6 1563.2 249.8 1565.8 250.8 C1568.4 251.8 1575.5 257.1 1577.7 258.7 C1579.9 260.3 1585.6 264.2 1587.6 266.7 C1589.6 269.2 1595.5 280.9 1597.5 283.5 C1599.5 286.1 1605.6 291.5 1607.4 292.4 C1609.2 293.3 1613.5 293.2 1615.3 292.4 C1617.1 291.6 1623 286.1 1625.2 284.5 C1627.4 282.9 1635.1 278.5 1637.1 276.6 C1639.1 274.7 1643.7 268 1645 265.7 C1646.3 263.4 1648.9 255.5 1650 253.8 C1651.1 252.1 1654.9 247.8 1656 248.8 C1657.1 249.8 1659.6 261.2 1660.9 263.7 C1662.2 266.2 1666.8 272.9 1668.8 273.6 C1670.8 274.3 1678.9 270.5 1680.7 270.6 C1682.5 270.7 1685.5 273.5 1686.7 274.6 C1687.9 275.7 1690.8 281 1692.6 281.5 C1694.4 282 1702.3 278.8 1704.5 279.6 C1706.7 280.4 1712.6 286.5 1714.4 289.5 C1716.2 292.5 1720 308.5 1722.4 309.3 C1724.8 310.1 1735.8 299.2 1738.2 297.4 C1740.6 295.6 1744.5 291.9 1746.1 291.4 C1747.7 290.9 1752.3 291.7 1754.1 292.4 C1755.9 293.1 1761.6 298.3 1764 298.4 C1766.4 298.5 1773.9 295 1777.9 293.4 C1781.9 291.8 1798.6 284.3 1803.6 282.5 C1808.5 280.7 1823.6 277 1827.4 275.6 C1831.2 274.2 1839.3 268.7 1841.3 268.7 C1843.3 268.7 1846 273.3 1847.2 275.6 C1848.4 277.9 1851.7 288.5 1853.2 291.4 C1854.7 294.3 1861.2 303 1862.1 304.3" fill="none" stroke="#f89292" stroke-width="2" stroke-dasharray="5.5 4.5"/>
<path d="M225 662.5 C226.1 661.8 233 654.2 236 655 C239 655.8 250.8 666.6 255 670 C259.1 673.4 274 688.1 277.5 689 C281 689.9 288 682.4 290 679 C292 675.6 296 659.3 297.5 655 C299 650.7 303 636.8 305 636 C307 635.2 314.9 645.1 317.5 647.5 C320.1 649.9 328.2 659.2 331 660 C333.8 660.8 342.4 656.2 345 655 C347.6 653.8 355.5 650.2 357.5 647.5 C359.5 644.8 363.5 630.7 365 627.5 C366.5 624.3 370.5 616.5 372.5 615.5 C374.5 614.5 382.8 617.5 385 617.5 C387.2 617.5 393.2 614.2 395 615 C396.8 615.8 401.1 621.6 402.5 625 C403.9 628.4 407.9 646.2 409 649 C410.1 651.8 412.9 653.8 414 652.5 C415.1 651.2 418.6 638.4 420 636 C421.4 633.6 425.6 629.2 427.5 629 C429.4 628.8 436.6 634.8 439 634 C441.4 633.2 449.1 621.1 451 621 C452.9 620.9 456.4 629.1 457.5 632.5 C458.6 635.9 461.5 652 462.5 655 C463.5 658 466.5 663.5 467.5 662.5 C468.5 661.5 471.2 648.4 472.5 645 C473.8 641.6 478.5 629 480 629 C481.5 629 485.9 642.4 487.5 645 C489.1 647.6 494 654.5 496 655 C498 655.5 505.4 653 507.5 650 C509.6 647 515.8 629.2 517.5 625 C519.2 620.8 523.5 610 525 607.5 C526.5 605 531 599.8 532.5 600 C534 600.2 538.5 608 540 610 C541.5 612 545.6 619.6 547.5 620 C549.4 620.4 557 616.5 559 614 C561 611.5 566 598.4 567.5 595 C569 591.6 572.5 579.8 574 580 C575.5 580.2 580.6 592.8 582.5 597.5 C584.4 602.2 590.8 622.8 592.5 627.5 C594.2 632.2 598.8 644.2 600 645 C601.2 645.8 604 640.2 605 635 C606 629.8 608.9 599.2 610 592.5 C611.1 585.8 614.5 571.1 616 567.5 C617.5 563.9 623.2 557.4 625 556 C626.8 554.6 632 553.4 634 554 C636 554.6 642.6 560.4 645 562.5 C647.4 564.6 655 572.8 657.5 575 C660 577.2 667.8 582.5 670 585 C672.2 587.5 678.2 600 680 600 C681.8 600 686 588.8 687.5 585 C689 581.2 692.8 563.2 695 562.5 C697.2 561.8 707.2 576.6 710 577.5 C712.8 578.4 719.8 571.8 722.5 571 C725.2 570.2 734.8 568.9 737.5 569.5 C740.2 570.1 747.5 574.9 750 577.5 C752.5 580.1 760.1 596.6 762.5 596 C764.9 595.4 771.2 572.4 774 571 C776.8 569.6 786.1 583.5 790 582.5 C793.9 581.5 809.5 562.9 812.5 561 C815.5 559.1 818.5 562.1 820 564 C821.5 565.9 825.9 577.9 827.5 580 C829.1 582.1 834 585.4 836 585 C838 584.6 845.6 578 847.5 576 C849.4 574 853.2 566.7 855 565 C856.8 563.3 862.8 559.9 865 559 C867.2 558.1 875 556.4 877.5 556 C880 555.6 887.8 555.7 890 555.5 C892.2 555.3 897.8 556.3 900 554 C902.2 551.7 909.9 534.1 912.5 532.5 C915.1 530.9 923.5 537.9 926 537.5 C928.5 537.1 935.1 527.4 937.5 529 C939.9 530.6 948.1 552.1 950 554 C951.9 555.9 954.5 550.9 956 547.5 C957.5 544.1 963.6 521.8 965 520 C966.4 518.2 969 525.8 970 530 C971 534.2 974 558.5 975 562.5 C976 566.5 978.5 570.2 980 570 C981.5 569.8 988.2 560.5 990 560 C991.8 559.5 996.1 563.2 997.5 565 C998.9 566.8 1002.9 576.5 1004 577.5 C1005.1 578.5 1007.9 579.2 1009 575 C1010.1 570.8 1013.8 539.8 1015 535 C1016.2 530.2 1019.2 527.2 1021 527.5 C1022.8 527.8 1029.8 538.2 1032.5 537.5 C1035.2 536.8 1044.8 519.9 1047.5 520.5 C1050.2 521.1 1058 543 1060 544 C1062 545 1065.8 534.1 1067.5 530 C1069.2 525.9 1075.2 506.6 1077.5 502.5 C1079.8 498.4 1087.7 489.8 1090 489 C1092.3 488.2 1098.6 495.1 1101 495 C1103.4 494.9 1112.1 486.2 1114 487.5 C1115.9 488.8 1118.7 501.1 1120 507.5 C1121.3 513.9 1126 549.5 1127.5 551 C1129 552.5 1133.5 526.7 1135 522.5 C1136.5 518.3 1140.5 509.3 1142.5 509 C1144.5 508.7 1153.2 518.6 1155 519.5 C1156.8 520.4 1158 519 1160 517.5 C1162 516 1171.4 508 1175 505 C1178.6 502 1192.6 488.4 1196 487.5 C1199.4 486.6 1207.1 493 1209 496 C1210.9 499 1213.9 512.4 1215 517.5 C1216.1 522.6 1219 544.4 1220 547.5 C1221 550.6 1224 552 1225 549 C1226 546 1228.8 523.4 1230 517.5 C1231.2 511.6 1235.6 494.2 1237.5 490 C1239.4 485.8 1247.2 474.8 1249 475 C1250.8 475.2 1253.8 488.5 1255 492.5 C1256.2 496.5 1259.4 512.5 1261 515 C1262.6 517.5 1269.1 518.2 1271 517.5 C1272.9 516.8 1278.2 511 1280 507.5 C1281.8 504 1287.5 483 1289 482.5 C1290.5 482 1293.9 498 1295 502.5 C1296.1 507 1299.1 524.1 1300 527.5 C1300.9 530.9 1303 537 1304 536 C1305 535 1308.7 521.1 1310 517.5 C1311.3 513.9 1315.5 503 1317.5 500 C1319.5 497 1328 487.5 1330 487.5 C1332 487.5 1335.9 497.6 1337.5 500 C1339.1 502.4 1343.5 510.5 1346 511 C1348.5 511.5 1359.6 506.9 1362.5 505 C1365.4 503.1 1372.8 496.2 1375 492.5 C1377.2 488.8 1383 468.8 1385 467.5 C1387 466.2 1392.6 476.2 1395 480 C1397.4 483.8 1406 504 1409 505 C1412 506 1421.9 491.2 1425 490 C1428.1 488.8 1437 492.1 1440 492.5 C1443 492.9 1452.2 494.5 1455 494 C1457.8 493.5 1465 489.8 1467.5 487.5 C1470 485.2 1476.8 473.4 1480 471 C1483.2 468.6 1496.2 466.4 1500 464 C1503.8 461.6 1514.2 447.6 1517.5 447.5 C1520.8 447.4 1529.5 460.4 1532.5 462.5 C1535.5 464.6 1544.8 467.1 1547.5 469 C1550.2 470.9 1556.8 480.6 1559.8 481.3 C1562.8 482 1573.9 475.9 1577.7 476.3 C1581.5 476.7 1592.8 486.3 1597.5 485.2 C1602.2 484.1 1620.2 465.2 1624.2 465.4 C1628.2 465.6 1634.6 484 1637.1 487.2 C1639.6 490.4 1646.2 495.7 1649 497.1 C1651.8 498.5 1661.9 502 1664.9 501.1 C1667.9 500.2 1675.8 490.1 1678.8 488.2 C1681.8 486.3 1691.5 484.3 1694.6 482.3 C1697.7 480.3 1707.3 468.3 1709.5 468.4 C1711.7 468.5 1714.9 481.1 1716.4 483.3 C1717.9 485.5 1722.4 490.3 1724.3 490.2 C1726.2 490.1 1733.2 481.4 1735.2 482.3 C1737.2 483.2 1741.9 495.6 1744.2 499.1 C1746.5 502.6 1755.2 514.4 1758 517 C1760.8 519.6 1768.9 523.6 1771.9 524.9 C1774.9 526.2 1784.8 531.2 1787.8 529.8 C1790.8 528.4 1798.9 515 1801.7 511 C1804.5 507 1813.1 490.2 1815.5 490.2 C1817.9 490.2 1823.4 508.1 1825.4 511 C1827.4 513.9 1832.9 517.7 1835.3 518.9 C1837.7 520.1 1846.4 521.7 1849.2 522.9 C1852 524.1 1861.7 530 1863.1 530.8" fill="none" stroke="#a0a0f4" stroke-width="2" stroke-dasharray="5.5 4.5"/>
<path d="M223.5 526 C224.8 524.7 232.2 516.3 235 515 C237.8 513.7 244.6 514.7 247.5 515 C250.4 515.3 257.1 517.6 260 517.5 C262.9 517.4 269 514.8 272.5 514 C276 513.2 286.7 512.9 290 511 C293.3 509.1 297.8 497.7 301 497.5 C304.2 497.3 314.2 507.7 317.5 509 C320.8 510.3 326.8 508.3 329 509 C331.2 509.7 334.1 513.7 336 515 C337.9 516.3 342.8 521.2 345 520 C347.2 518.8 352.7 508 355 505 C357.3 502 361.5 496.3 365 494 C368.5 491.7 381.2 486.5 385 485 C388.8 483.5 394.6 483.2 397.5 481 C400.4 478.8 407.1 468.7 410 466 C412.9 463.3 419.3 459.2 422.5 457.5 C425.7 455.8 435.2 451.3 437.5 451 C439.8 450.7 441 452.8 442.5 455 C444 457.2 448 466.2 450 470 C452 473.8 457.7 485.2 460 487.5 C462.3 489.8 467.4 491.2 470 490 C472.6 488.8 479.6 480.5 482.5 477.5 C485.4 474.5 492.4 466.2 495 464 C497.6 461.8 502.7 459.2 505 459 C507.3 458.8 511.8 461.7 515 462.5 C518.2 463.3 529 464.8 532.5 466 C536 467.2 541.8 472.9 545 472.5 C548.2 472.1 557.1 464 560 462.5 C562.9 461 567.1 461.2 570 460 C572.9 458.8 581.5 454.5 585 452.5 C588.5 450.5 596.8 443.3 600 442.5 C603.2 441.7 609.6 446.9 612.5 446 C615.4 445.1 621.8 437.4 625 435 C628.2 432.6 636.8 426.9 640 425 C643.2 423.1 650.2 419.1 652.5 419 C654.8 418.9 658.5 422.7 660 424 C661.5 425.3 662.7 428.6 665 430 C667.3 431.4 676.2 435.5 680 436 C683.8 436.5 693.7 435.9 697.5 434 C701.3 432.1 708.7 421.8 712.5 420 C716.3 418.2 725.3 418.5 730 419 C734.7 419.5 748.5 423.9 752.5 424.5 C756.5 425.1 760.8 426 764 424 C767.2 422 776.4 410.3 780 407.5 C783.6 404.7 792.3 400.3 795 400 C797.7 399.7 801.4 403.7 803 405 C804.6 406.3 807 412.2 809 411 C811 409.8 817.5 397.5 820 395 C822.5 392.5 826.5 390 830 389.5 C833.5 389 845.6 390.1 850 391 C854.4 391.9 863.6 396.2 867.5 397.5 C871.4 398.8 879.9 403.1 883 402.5 C886.1 401.9 891.4 393.4 894 392.5 C896.6 391.6 902.3 394.4 905 395 C907.7 395.6 914.6 399.2 917.5 397.5 C920.4 395.8 927.4 382.6 930 380 C932.6 377.4 936.5 375.6 940 375 C943.5 374.4 955.3 374.8 960 375 C964.7 375.2 975.9 376.5 980 377 C984.1 377.5 992.3 381.6 995.5 379.5 C998.7 377.4 1004.6 361 1007.5 359 C1010.4 357 1017.3 362.8 1020 362 C1022.7 361.2 1028.4 352.9 1031 352.5 C1033.6 352.1 1039.8 357.2 1042.5 359 C1045.2 360.8 1051.4 366.9 1054 368 C1056.6 369.1 1062.8 369.6 1065 368 C1067.2 366.4 1069.6 355.6 1072.5 354 C1075.4 352.4 1086.7 353.4 1090 354 C1093.3 354.6 1097.8 359.4 1101 359.5 C1104.2 359.6 1113.8 355.3 1117.5 355 C1121.2 354.7 1128.7 356.7 1132.5 357 C1136.3 357.3 1146.2 357 1150 357.5 C1153.8 358 1161.5 361 1165 361 C1168.5 361 1175.9 357 1180 357.5 C1184.1 358 1195 364.6 1200 365 C1205 365.4 1218.4 362.8 1222.5 361 C1226.6 359.2 1231.8 351.9 1235 350 C1238.2 348.1 1246.8 344.8 1250 344.5 C1253.2 344.2 1259.6 345.7 1262.5 347.5 C1265.4 349.3 1272.7 359 1275 360 C1277.3 361 1280.4 356.3 1282 356 C1283.6 355.7 1286.4 355.4 1289 357.5 C1291.6 359.6 1301.3 373.2 1304 374 C1306.7 374.8 1310.4 365.2 1312.5 364 C1314.6 362.8 1320 364.6 1322 364 C1324 363.4 1327.9 361 1330 359 C1332.1 357 1337.7 349.3 1340 347 C1342.3 344.7 1348 340.3 1350 339 C1352 337.7 1355.6 337.3 1357.5 336 C1359.4 334.7 1364.3 328.7 1366 328 C1367.7 327.3 1370.1 328.9 1372 330 C1373.9 331.1 1379.7 338 1382.5 337.5 C1385.3 337 1393.4 326.6 1396 326 C1398.6 325.4 1403.1 330.3 1405 332.5 C1406.9 334.7 1410.2 342.7 1412.5 345 C1414.8 347.3 1421.8 351.8 1425 352.5 C1428.2 353.2 1436.2 351.9 1440 351 C1443.8 350.1 1454.3 345.8 1457.5 345 C1460.7 344.2 1465.2 343.4 1467.5 344 C1469.8 344.6 1474.6 350.2 1477.5 350 C1480.4 349.8 1489.3 343.8 1492.5 342.5 C1495.7 341.2 1501.8 339.3 1505 339 C1508.2 338.7 1516.5 340.8 1520 340 C1523.5 339.2 1531.5 333.6 1535 332.5 C1538.5 331.4 1546.5 331.9 1550 331 C1553.5 330.1 1562 326 1565 325 C1568 324 1573.3 322.5 1575.7 322.2 C1578.1 321.9 1583.3 320.9 1585.6 322.2 C1587.9 323.5 1593 331 1595.5 333 C1598 335 1603.9 338.6 1607.4 339 C1610.9 339.4 1622 336.1 1625.2 336 C1628.4 335.9 1632.8 336.5 1635.1 338 C1637.4 339.5 1642.8 346.6 1645 349 C1647.2 351.4 1651.4 358.8 1654 358.8 C1656.6 358.8 1664 350.5 1666.9 349 C1669.8 347.5 1676.5 345.5 1678.8 346 C1681.1 346.5 1684.7 351.4 1686.7 352.9 C1688.7 354.4 1692.8 358.6 1695.6 358.8 C1698.4 359 1706.7 356.2 1710.5 354.9 C1714.3 353.6 1723.7 347.8 1728.3 348 C1732.9 348.2 1745.9 356.7 1750.1 356.9 C1754.3 357.1 1760.1 351.3 1764 349.9 C1767.9 348.5 1779.2 346 1783.8 345 C1788.4 344 1799.7 341.2 1803.6 341 C1807.5 340.8 1814 341.8 1817.5 343 C1821 344.2 1830.2 349.5 1833.4 350.9 C1836.6 352.3 1841.7 354.5 1845.3 354.9 C1848.9 355.3 1861.8 354.5 1864 354.5 L1864 412.4 C1862.7 412.6 1855.8 413.6 1853.2 414.3 C1850.6 415 1844.5 417.6 1841.3 418.3 C1838.1 419 1828.4 419.3 1825.4 420.3 C1822.4 421.3 1818.3 427.4 1815.5 427.2 C1812.7 427 1804.7 418.8 1801.7 418.3 C1798.7 417.8 1792.8 424.5 1789.8 423.3 C1786.8 422.1 1778.9 410.9 1775.9 408.4 C1772.9 405.9 1767.5 401.3 1764 401.5 C1760.5 401.7 1749.8 408.9 1746.1 410.4 C1742.4 411.9 1736.5 414.1 1732.3 414.3 C1728.1 414.5 1714.9 412 1710.5 412.4 C1706.1 412.8 1698.1 417.1 1694.6 417.3 C1691.1 417.5 1683.7 414.4 1680.7 414.3 C1677.7 414.2 1672 416.5 1668.8 416.3 C1665.6 416.1 1656.5 413.8 1653 412.4 C1649.5 411 1642.3 405.2 1639.1 404.4 C1635.9 403.6 1628.2 406.9 1625.2 405.4 C1622.2 403.9 1616.3 393 1613.3 391.5 C1610.3 390 1602 391 1599.5 392.5 C1597 394 1593 402.1 1591.5 404.4 C1590 406.7 1588.2 412.2 1586.6 412.4 C1585 412.6 1580.1 408.3 1577.7 406.4 C1575.3 404.5 1568.2 398.1 1565.8 396.5 C1563.4 394.9 1559.6 393 1557.5 392.5 C1555.4 392 1549.5 393.1 1547.5 392.5 C1545.5 391.9 1542 388.4 1540 387.5 C1538 386.6 1532 383.9 1530 384.5 C1528 385.1 1524.1 390.7 1522.5 392.5 C1520.9 394.3 1518.3 398.1 1516 400 C1513.7 401.9 1505.7 408.9 1502.5 409 C1499.3 409.1 1491.6 404.3 1489 401 C1486.4 397.7 1481.6 383.5 1480 381 C1478.4 378.5 1476.3 378.9 1475 379.5 C1473.7 380.1 1470.8 384.1 1469 386 C1467.2 387.9 1462.2 395.1 1460 396 C1457.8 396.9 1452.6 393.9 1450 394 C1447.4 394.1 1440.1 396.2 1437.5 397 C1434.9 397.8 1429.8 400.1 1427.5 401 C1425.2 401.9 1419.8 404.5 1417.5 405 C1415.2 405.5 1409.7 404.1 1407.5 405 C1405.3 405.9 1400.8 412.2 1399 412.5 C1397.2 412.8 1394.1 409.2 1392.5 407.5 C1390.9 405.8 1386.8 397.8 1385 397.5 C1383.2 397.2 1379.2 403.1 1377.5 405 C1375.8 406.9 1372.3 413.7 1370 414 C1367.7 414.3 1361 408.4 1357.5 407.5 C1354 406.6 1344.1 405.8 1340 406 C1335.9 406.2 1326 407.8 1322.5 409 C1319 410.2 1312.9 413.1 1310 416 C1307.1 418.9 1299.8 431.3 1297.5 434 C1295.2 436.7 1292 439.4 1290 439.5 C1288 439.6 1282.3 436.7 1280 435 C1277.7 433.3 1272.3 426.6 1270 425 C1267.7 423.4 1262.3 421.1 1260 421 C1257.7 420.9 1252.9 422.5 1250 424 C1247.1 425.5 1237.9 432.8 1235 434 C1232.1 435.2 1227.3 434.4 1225 434 C1222.7 433.6 1216.9 431.6 1215 431 C1213.1 430.4 1211.5 431.6 1209 429 C1206.5 426.4 1197.1 410.9 1194 409 C1190.9 407.1 1185.6 413 1182.5 412.5 C1179.4 412 1171.3 405.4 1167.5 405 C1163.7 404.6 1153.2 408.2 1150 409 C1146.8 409.8 1142.6 413.5 1140 412 C1137.4 410.5 1130.4 396.7 1127.5 396 C1124.6 395.3 1118.2 403.7 1115 406 C1111.8 408.3 1103.2 412.5 1100 416 C1096.8 419.5 1090.4 434.8 1087.5 436 C1084.6 437.2 1077.9 426.2 1075 426 C1072.1 425.8 1065.4 432.7 1062.5 434 C1059.6 435.3 1053.2 436.2 1050 437.5 C1046.8 438.8 1038.2 442.8 1035 445 C1031.8 447.2 1025.4 454.4 1022.5 456 C1019.6 457.6 1012.9 459.7 1010 459 C1007.1 458.3 1000.1 452.9 997.5 450 C994.9 447.1 989.5 436.8 987.5 434 C985.5 431.2 981.8 425.5 980 426 C978.2 426.5 974 434.9 972.5 438 C971 441.1 968.7 450.4 967.5 452.5 C966.3 454.6 964.5 455.8 962.5 456 C960.5 456.2 952.9 454.8 950 454 C947.1 453.2 940.4 449.4 937.5 449 C934.6 448.6 928.2 450.9 925 451 C921.8 451.1 913.2 449.5 910 449.5 C906.8 449.5 900.7 448.9 897.5 451 C894.3 453.1 885.7 464.4 882.5 467.5 C879.3 470.6 874.7 476.2 870 477.5 C865.3 478.8 847.2 479.9 842.5 479 C837.8 478.1 833.2 470.1 830 469.5 C826.8 468.9 819.4 473.5 815 474 C810.6 474.5 797.2 473.6 792.5 474 C787.8 474.4 780.1 476.1 775 477.5 C769.9 478.9 753.5 486.3 749 486 C744.5 485.7 739.1 475.1 736 475 C732.9 474.9 725.5 483.7 722.5 485 C719.5 486.3 713.5 483.7 710 486 C706.5 488.3 695.4 502.2 692.5 505 C689.6 507.8 686.8 508.9 685 510 C683.2 511.1 679.8 514 677.5 514 C675.2 514 667.9 511.8 665 510 C662.1 508.2 656 499.9 652.5 499 C649 498.1 638.5 502.4 635 502.5 C631.5 502.6 625.4 500.6 622.5 500 C619.6 499.4 612.9 497 610 497.5 C607.1 498 600.4 502.4 597.5 504 C594.6 505.6 588.1 510.8 585 511 C581.9 511.2 573.5 505.5 571 506 C568.5 506.5 565.9 511.6 564 515 C562.1 518.4 557.2 531.8 555 535 C552.8 538.2 547.9 542.6 545 542.5 C542.1 542.4 533.2 535.5 530 534 C526.8 532.5 520.1 529.3 517.5 530 C514.9 530.7 509.8 539.4 507.5 540 C505.2 540.6 500.1 535 497.5 535 C494.9 535 487.6 538.2 485 540 C482.4 541.8 477.3 548.5 475 550 C472.7 551.5 467.9 553.7 465 552.5 C462.1 551.3 453.5 542.3 450 540 C446.5 537.7 438.2 533.9 435 533 C431.8 532.1 425.4 532.9 422.5 532.5 C419.6 532.1 412.6 530 410 530 C407.4 530 402.6 530.8 400 532.5 C397.4 534.2 390.3 542.5 388 545 C385.7 547.5 382 554.9 380 554 C378 553.1 373.3 537.4 371 537.5 C368.7 537.6 362.2 551.7 360 555 C357.8 558.3 354.5 564.7 352.5 566 C350.5 567.3 345.1 567.2 342.5 566 C339.9 564.8 332.9 557.6 330 556 C327.1 554.4 320.4 552.1 317.5 552.5 C314.6 552.9 307.9 558.2 305 559 C302.1 559.8 295.4 558.8 292.5 559 C289.6 559.2 282.6 559.7 280 561 C277.4 562.3 272.3 568.1 270 570 C267.7 571.9 262.6 576.6 260 577.5 C257.4 578.4 250.4 577.2 247.5 577.5 C244.6 577.8 237.8 581.6 235 580 C232.2 578.4 224.8 565.9 223.5 564 Z" fill="#b5d7a8"/>
<path d="M224 551 C227.1 550.4 236.5 548.5 242.5 547.5 C248.5 546.5 254.2 547.2 260 545 C265.8 542.8 271.2 536.5 277.5 534 C283.8 531.5 290.8 530.8 297.5 530 C304.2 529.2 311.2 527.8 317.5 529 C323.8 530.2 329.6 536.5 335 537.5 C340.4 538.5 345 538.1 350 535 C355 531.9 359.2 522.3 365 519 C370.8 515.7 377.5 517.8 385 515 C392.5 512.2 402.5 505.7 410 502.5 C417.5 499.3 424.2 496.6 430 496 C435.8 495.4 440 497.1 445 499 C450 500.9 455 505.2 460 507.5 C465 509.8 470 512.5 475 512.5 C480 512.5 485 510 490 507.5 C495 505 499.6 499.6 505 497.5 C510.4 495.4 516.7 494.2 522.5 495 C528.3 495.8 535 502.1 540 502.5 C545 502.9 547.9 500.8 552.5 497.5 C557.1 494.2 562.9 486.1 567.5 482.5 C572.1 478.9 575 477.4 580 476 C585 474.6 591.7 475.7 597.5 474 C603.3 472.3 608.8 467.5 615 466 C621.2 464.5 628.3 465 635 465 C641.7 465 648.8 465.2 655 466 C661.2 466.8 666.7 469.8 672.5 470 C678.3 470.2 686.2 468.3 690 467.5 C693.8 466.7 690.4 467.9 695 465 C699.6 462.1 711 454 717.5 450 C724 446 728.2 441 734 441 C739.8 441 745.7 448.9 752.5 450 C759.3 451.1 766.7 449.6 775 447.5 C783.3 445.4 793.8 441.1 802.5 437.5 C811.2 433.9 820.4 426.6 827.5 426 C834.6 425.4 838.3 433.3 845 434 C851.7 434.7 860.8 430.7 867.5 430 C874.2 429.3 879.6 431.8 885 430 C890.4 428.2 895 421 900 419 C905 417 910 418.2 915 418 C920 417.8 924.2 418 930 417.5 C935.8 417 943.8 417.5 950 415 C956.2 412.5 962.5 405.3 967.5 402.5 C972.5 399.7 973.8 398 980 398 C986.2 398 996.7 402.7 1005 402.5 C1013.3 402.3 1021.7 398.2 1030 397 C1038.3 395.8 1047.5 395.5 1055 395.5 C1062.5 395.5 1069.2 397.9 1075 397 C1080.8 396.1 1085 392.4 1090 390 C1095 387.6 1099.2 384.8 1105 382.5 C1110.8 380.2 1118.8 375.9 1125 376 C1131.2 376.1 1136.7 382.2 1142.5 383 C1148.3 383.8 1154.6 381.5 1160 381 C1165.4 380.5 1169.2 378.9 1175 380 C1180.8 381.1 1188.8 385 1195 387.5 C1201.2 390 1206.7 393.6 1212.5 395 C1218.3 396.4 1223.8 397.2 1230 396 C1236.2 394.8 1243.8 388.9 1250 387.5 C1256.2 386.1 1261.7 386.4 1267.5 387.5 C1273.3 388.6 1279.6 394 1285 394 C1290.4 394 1295 390.2 1300 387.5 C1305 384.8 1310 378.6 1315 377.5 C1320 376.4 1324.2 381.4 1330 381 C1335.8 380.6 1343.3 377.2 1350 375 C1356.7 372.8 1363.3 369.3 1370 367.5 C1376.7 365.7 1384.6 364.4 1390 364 C1395.4 363.6 1398.3 363.6 1402.5 365 C1406.7 366.4 1410.4 370.8 1415 372.5 C1419.6 374.2 1425 375.6 1430 375 C1435 374.4 1440 370.7 1445 369 C1450 367.3 1454.6 365.2 1460 365 C1465.4 364.8 1471.7 367.3 1477.5 367.5 C1483.3 367.7 1489.6 365.8 1495 366 C1500.4 366.2 1505 369.6 1510 369 C1515 368.4 1520 364.4 1525 362.5 C1530 360.6 1534.2 358.6 1540 357.5 C1545.8 356.4 1554.4 355.4 1560 356 C1565.6 356.6 1569.4 359 1573.7 360.8 C1578 362.6 1581.5 366.3 1585.6 366.8 C1589.6 367.3 1593.7 364.5 1598 364 C1602.3 363.5 1606.9 363 1611.4 363.8 C1615.9 364.6 1619.6 366.8 1625.2 368.8 C1630.8 370.8 1639 373.6 1645 375.7 C1651 377.8 1654.6 380.6 1660.9 381.6 C1667.2 382.6 1676.8 380.9 1682.7 381.6 C1688.7 382.3 1692 385.4 1696.6 385.6 C1701.2 385.8 1706.2 382.9 1710.5 382.6 C1714.8 382.3 1718.1 384.4 1722.4 383.6 C1726.7 382.8 1731.6 378.9 1736.2 377.7 C1740.8 376.5 1745.5 377.2 1750.1 376.7 C1754.7 376.2 1759.7 374.9 1764 374.7 C1768.3 374.5 1771.6 374.7 1775.9 375.7 C1780.2 376.7 1785.2 380.1 1789.8 380.6 C1794.4 381.1 1797.3 379.3 1803.6 378.7 C1809.9 378.1 1821.1 376.6 1827.4 377.1 C1833.7 377.6 1835.2 380.2 1841.3 381.6 C1847.4 383 1860.2 384.9 1864 385.6" fill="none" stroke="#7aa46e" stroke-width="2.2" stroke-dasharray="5.5 4.5"/>
<g clip-path="url(#cBelowLine)"><rect x="225" y="200" width="1340" height="500" fill="#ff0000" clip-path="url(#cAboveUpper)"/></g>
<g clip-path="url(#cAboveLine)"><rect x="225" y="200" width="1340" height="500" fill="#2a0ad8" clip-path="url(#cBelowLower)"/></g>
<path d="M1565 394 C1566 391.8 1568.3 384.8 1570.7 380.6 C1573.1 376.4 1575.5 372.1 1579.6 368.8 C1583.7 365.5 1591.5 363.5 1595.5 360.8 C1599.5 358.1 1601.1 357.2 1603.4 352.9 C1605.7 348.6 1606.8 342.3 1609.4 335 C1612.1 327.7 1616 315.9 1619.3 309.3 C1622.6 302.7 1625.9 299.2 1629.2 295.4 C1632.5 291.6 1634.8 289.1 1639.1 286.5 C1643.4 283.9 1648.4 281.2 1655 279.6 C1661.6 278 1671.5 278.3 1678.8 276.6 C1686.1 274.9 1692 271.6 1698.6 269.6 C1705.2 267.6 1713.8 265.4 1718.4 264.7 C1723 264 1723.3 264.7 1726.3 265.7 C1729.3 266.7 1732.4 269.3 1736.2 270.6 C1740 271.9 1746.9 273.1 1749.1 273.6 L1749.1 374.7 C1747.3 372.7 1741.3 367.4 1738.2 362.8 C1735.1 358.2 1732.6 351.8 1730.3 346.9 C1728 341.9 1726.3 336.2 1724.3 333.1 C1722.3 330 1721 329.3 1718.4 328.1 C1715.8 326.9 1712.1 326.6 1708.5 326.1 C1704.9 325.6 1700.6 324.3 1696.6 325.1 C1692.6 325.9 1688.3 328.8 1684.7 331.1 C1681.1 333.4 1677.8 337.2 1674.8 339 C1671.8 340.8 1669.9 343 1666.9 342 C1663.9 341 1660.2 335.9 1656.9 333.1 C1653.6 330.3 1650.3 326.6 1647 325.1 C1643.7 323.6 1640.4 323.2 1637.1 324.2 C1633.8 325.2 1630.2 328 1627.2 331.1 C1624.2 334.2 1621.9 338.1 1619.3 343 C1616.7 347.9 1613.7 355.2 1611.4 360.8 C1609.1 366.4 1607.7 372.7 1605.4 376.7 C1603.1 380.7 1600.8 382.5 1597.5 384.6 C1594.2 386.8 1589.2 388.9 1585.6 389.6 C1582 390.3 1579.1 387.5 1575.7 388.6 C1572.3 389.7 1566.8 394.8 1565 396 Z" fill="#fff98f" fill-opacity="0.8"/>
<path d="M1565 394 C1566 391.8 1568.3 384.8 1570.7 380.6 C1573.1 376.4 1575.5 372.1 1579.6 368.8 C1583.7 365.5 1591.5 363.5 1595.5 360.8 C1599.5 358.1 1601.1 357.2 1603.4 352.9 C1605.7 348.6 1606.8 342.3 1609.4 335 C1612.1 327.7 1616 315.9 1619.3 309.3 C1622.6 302.7 1625.9 299.2 1629.2 295.4 C1632.5 291.6 1634.8 289.1 1639.1 286.5 C1643.4 283.9 1648.4 281.2 1655 279.6 C1661.6 278 1671.5 278.3 1678.8 276.6 C1686.1 274.9 1692 271.6 1698.6 269.6 C1705.2 267.6 1713.8 265.4 1718.4 264.7 C1723 264 1723.3 264.7 1726.3 265.7 C1729.3 266.7 1732.4 269.3 1736.2 270.6 C1740 271.9 1746.9 273.1 1749.1 273.6" fill="none" stroke="#f7c58c" stroke-width="1"/>
<path d="M1565 396 C1566.8 394.8 1572.3 389.7 1575.7 388.6 C1579.1 387.5 1582 390.3 1585.6 389.6 C1589.2 388.9 1594.2 386.8 1597.5 384.6 C1600.8 382.5 1603.1 380.7 1605.4 376.7 C1607.7 372.7 1609.1 366.4 1611.4 360.8 C1613.7 355.2 1616.7 347.9 1619.3 343 C1621.9 338.1 1624.2 334.2 1627.2 331.1 C1630.2 328 1633.8 325.2 1637.1 324.2 C1640.4 323.2 1643.7 323.6 1647 325.1 C1650.3 326.6 1653.6 330.3 1656.9 333.1 C1660.2 335.9 1663.9 341 1666.9 342 C1669.9 343 1671.8 340.8 1674.8 339 C1677.8 337.2 1681.1 333.4 1684.7 331.1 C1688.3 328.8 1692.6 325.9 1696.6 325.1 C1700.6 324.3 1704.9 325.6 1708.5 326.1 C1712.1 326.6 1715.8 326.9 1718.4 328.1 C1721 329.3 1722.3 330 1724.3 333.1 C1726.3 336.2 1728 341.9 1730.3 346.9 C1732.6 351.8 1735.1 358.2 1738.2 362.8 C1741.3 367.4 1747.3 372.7 1749.1 374.7" fill="none" stroke="#f7c58c" stroke-width="1"/>
<path d="M1565 395.5 C1566.1 393.2 1567.6 384.6 1571.7 381.6 C1575.8 378.6 1584.6 379.5 1589.6 377.7 C1594.5 375.9 1598.4 374.2 1601.4 370.7 C1604.4 367.2 1605.7 361.5 1607.4 356.9 C1609.1 352.3 1609.4 348.6 1611.4 343 C1613.4 337.4 1616.3 328.6 1619.3 323.2 C1622.3 317.8 1625.9 313.4 1629.2 310.3 C1632.5 307.2 1635.1 305.5 1639.1 304.3 C1643.1 303.1 1648.4 304.3 1653 303.3 C1657.6 302.3 1662.6 299 1666.9 298.4 C1671.2 297.8 1674.8 299.2 1678.8 299.4 C1682.8 299.6 1686.3 300.7 1690.6 299.4 C1694.9 298.1 1700.5 292.6 1704.5 291.4 C1708.5 290.2 1710.8 291.1 1714.4 292.4 C1718 293.7 1722.3 296.9 1726.3 299.4 C1730.3 301.9 1734.4 305.1 1738.2 307.3 C1742 309.5 1747.3 311.5 1749.1 312.3" fill="none" stroke="#111" stroke-width="4" stroke-dasharray="5.5 4.8"/>
<path d="M223.6 535.6 C225.5 534.5 232.1 531.6 235 529 C237.9 526.4 238.9 525.2 241 520 C243.1 514.8 245.3 502.3 247.5 497.5 C249.7 492.7 251.5 493.5 254 491 C256.5 488.5 259.4 486.8 262.5 482.5 C265.6 478.2 268.8 472.5 272.5 465 C276.2 457.5 282.2 442.7 285 437.5 C287.8 432.3 287.3 434.2 289 434 C290.7 433.8 290.7 432.1 295 436 C299.3 439.9 310.4 451.4 315 457.5 C319.6 463.6 319.6 464.6 322.5 472.5 C325.4 480.4 328.8 493.8 332.5 505 C336.2 516.2 341.2 531 345 540 C348.8 549 351.8 554.5 355 559 C358.2 563.5 361.3 565.2 364 567 C366.7 568.8 368.5 570.2 371 570 C373.5 569.8 376.7 568.5 379 566 C381.3 563.5 382.3 561 385 555 C387.7 549 392.5 534.8 395 530 C397.5 525.2 397.5 527.5 400 526 C402.5 524.5 407.1 523.5 410 521 C412.9 518.5 415.3 514.1 417.5 511 C419.7 507.9 421.3 503.5 423 502.5 C424.7 501.5 425.7 502.2 427.5 505 C429.3 507.8 432.1 515.8 434 519 C435.9 522.2 437 524.2 439 524.5 C441 524.8 443.5 522.4 446 521 C448.5 519.6 451.7 519.1 454 516 C456.3 512.9 458.2 506.2 460 502.5 C461.8 498.8 463 494.4 464.5 494 C466 493.6 467.4 494.8 469 500 C470.6 505.2 472.5 517.3 474 525 C475.5 532.7 476.3 542.8 478 546 C479.7 549.2 481.6 546 484 544 C486.4 542 489.4 538 492.5 534 C495.6 530 499.8 525.7 502.5 520 C505.2 514.3 506.9 507.5 509 500 C511.1 492.5 513.2 480.2 515 475 C516.8 469.8 518.5 469 520 469 C521.5 469 522.5 472.2 524 475 C525.5 477.8 527.2 483.9 529 486 C530.8 488.1 532.3 487.2 535 487.5 C537.7 487.8 542.3 486.7 545 487.5 C547.7 488.3 548.7 488.3 551 492.5 C553.3 496.7 556.8 505.4 559 512.5 C561.2 519.6 562.6 528.8 564 535 C565.4 541.2 565.8 546.2 567.5 550 C569.2 553.8 571.5 557.3 574 558 C576.5 558.7 579.8 556.2 582.5 554 C585.2 551.8 587.8 548.6 590 545 C592.2 541.4 593.7 539.2 596 532.5 C598.3 525.8 601.7 515.4 604 505 C606.3 494.6 608.3 477.9 610 470 C611.7 462.1 612.8 458.8 614 457.5 C615.2 456.2 616.1 457.9 617.5 462.5 C618.9 467.1 620.8 477.5 622.5 485 C624.2 492.5 626.3 505 628 507.5 C629.7 510 630.1 506.7 632.5 500 C634.9 493.3 639.2 479.3 642.5 467.5 C645.8 455.7 649.6 436.5 652.5 429 C655.4 421.5 656.7 424.7 660 422.5 C663.3 420.3 669 417.2 672.5 416 C676 414.8 678.9 417 681 415 C683.1 413 683.7 408.8 685 404 C686.3 399.2 687.5 389.3 689 386 C690.5 382.7 692.2 383.3 694 384 C695.8 384.7 698.2 388.1 700 390 C701.8 391.9 702.9 395.1 705 395.5 C707.1 395.9 710 393.5 712.5 392.5 C715 391.5 717.8 388.7 720 389.5 C722.2 390.3 723.9 394.1 726 397.5 C728.1 400.9 730.2 407.6 732.5 410 C734.8 412.4 736.4 412.1 740 412 C743.6 411.9 750.2 411.3 754 409.5 C757.8 407.7 759.4 403.6 762.5 401 C765.6 398.4 770.2 396.3 772.5 394 C774.8 391.7 774.3 388.3 776 387 C777.7 385.7 780.2 385.6 782.5 386 C784.8 386.4 787.5 387.6 790 389.5 C792.5 391.4 795.4 393.2 797.5 397.5 C799.6 401.8 801.1 411.4 802.5 415 C803.9 418.6 804.3 418.8 806 419 C807.7 419.2 809.8 419.6 812.5 416 C815.2 412.4 820.2 403.1 822.5 397.5 C824.8 391.9 824.8 387.5 826 382.5 C827.2 377.5 827.2 371.9 829.5 367.5 C831.8 363.1 836.6 360.8 840 356 C843.4 351.2 846.8 343.8 850 339 C853.2 334.2 855.7 330.5 859 327.5 C862.3 324.5 866.9 323.2 870 321 C873.1 318.8 875.7 316.2 877.5 314 C879.3 311.8 879.8 308.8 881 307.5 C882.2 306.2 883.9 305.2 885 306 C886.1 306.8 886.5 307.7 887.5 312.5 C888.5 317.3 889.8 325.4 891 335 C892.2 344.6 893.5 358.8 895 370 C896.5 381.2 898.3 393.3 900 402.5 C901.7 411.7 903.2 420 905 425 C906.8 430 909.2 433.3 911 432.5 C912.8 431.7 913.5 426.7 916 420 C918.5 413.3 922.8 400.8 926 392.5 C929.2 384.2 932.2 377.1 935 370 C937.8 362.9 940.2 355.7 942.5 350 C944.8 344.3 947.2 338.6 949 336 C950.8 333.4 951.6 333.8 953 334.5 C954.4 335.2 955.7 336.8 957.5 340 C959.3 343.2 961.9 350 964 354 C966.1 358 968 360.9 970 364 C972 367.1 974.2 371.9 976 372.5 C977.8 373.1 979.3 371.2 981 367.5 C982.7 363.8 984.1 354.4 986 350 C987.9 345.6 989.8 343.7 992.5 341 C995.2 338.3 998.8 337.9 1002.5 334 C1006.2 330.1 1011.1 323 1015 317.5 C1018.9 312 1023.1 304.6 1026 301 C1028.9 297.4 1030.8 295.8 1032.5 296 C1034.2 296.2 1034.6 298.9 1036 302.5 C1037.4 306.1 1039.2 312.5 1041 317.5 C1042.8 322.5 1045.1 330.8 1047 332.5 C1048.9 334.2 1050.5 330.6 1052.5 327.5 C1054.5 324.4 1056.1 317.1 1059 314 C1061.9 310.9 1066.9 310.7 1070 309 C1073.1 307.3 1075 304.8 1077.5 304 C1080 303.2 1082.1 303.2 1085 304 C1087.9 304.8 1091.7 307.2 1095 309 C1098.3 310.8 1101.8 313.3 1105 315 C1108.2 316.7 1111.5 319.7 1114 319 C1116.5 318.3 1117.8 313.8 1120 311 C1122.2 308.2 1125.3 305.6 1127.5 302.5 C1129.7 299.4 1131.3 294.2 1133 292.5 C1134.7 290.8 1135.7 290.9 1137.5 292 C1139.3 293.1 1141.9 295.2 1144 299 C1146.1 302.8 1148.2 309 1150 315 C1151.8 321 1153.3 327.9 1155 335 C1156.7 342.1 1158.3 351.2 1160 357.5 C1161.7 363.8 1162.9 368.9 1165 372.5 C1167.1 376.1 1169.6 376.9 1172.5 379 C1175.4 381.1 1180.2 381.1 1182.5 385 C1184.8 388.9 1184.6 395.4 1186 402.5 C1187.4 409.6 1189.1 420 1191 427.5 C1192.9 435 1195.3 442.1 1197.5 447.5 C1199.7 452.9 1202 457.1 1204 460 C1206 462.9 1207.8 465.7 1209.5 465 C1211.2 464.3 1212.4 461 1214 456 C1215.6 451 1216.8 441.8 1219 435 C1221.2 428.2 1224.4 420.8 1227.5 415 C1230.6 409.2 1234.2 403.8 1237.5 400 C1240.8 396.2 1244.8 392.9 1247.5 392.5 C1250.2 392.1 1251.8 394.4 1254 397.5 C1256.2 400.6 1258.8 410.2 1261 411 C1263.2 411.8 1265.2 407.2 1267.5 402.5 C1269.8 397.8 1272.8 390.8 1275 382.5 C1277.2 374.2 1279.2 359.6 1281 352.5 C1282.8 345.4 1284.3 342.2 1286 340 C1287.7 337.8 1288.2 338.2 1291 339.5 C1293.8 340.8 1298.9 344.2 1302.5 347.5 C1306.1 350.8 1309.2 356.5 1312.5 359 C1315.8 361.5 1319.6 362.5 1322.5 362.5 C1325.4 362.5 1327.1 361.2 1330 359 C1332.9 356.8 1336.7 352 1340 349 C1343.3 346 1347.1 342.7 1350 341 C1352.9 339.3 1354.9 340.9 1357.5 339 C1360.1 337.1 1363.2 330.8 1365.5 329.5 C1367.8 328.2 1369 328.8 1371 331 C1373 333.2 1375.2 339.2 1377.5 342.5 C1379.8 345.8 1382.5 349.1 1385 351 C1387.5 352.9 1389.6 353.8 1392.5 354 C1395.4 354.2 1399.6 352.2 1402.5 352 C1405.4 351.8 1407.9 350.3 1410 352.5 C1412.1 354.7 1413.3 359.2 1415 365 C1416.7 370.8 1418.5 379.2 1420 387.5 C1421.5 395.8 1422.5 408.3 1424 415 C1425.5 421.7 1426.8 424.6 1429 427.5 C1431.2 430.4 1435 432.5 1437.5 432.5 C1440 432.5 1442.1 432.9 1444 427.5 C1445.9 422.1 1447.7 406.4 1449 400 C1450.3 393.6 1451 387.3 1452 389 C1453 390.7 1453.8 401.1 1455 410 C1456.2 418.9 1457.8 433.3 1459 442.5 C1460.2 451.7 1461.3 460.8 1462.5 465 C1463.7 469.2 1464.6 469.2 1466 467.5 C1467.4 465.8 1469.3 460.8 1471 455 C1472.7 449.2 1474.3 436.7 1476 432.5 C1477.7 428.3 1478.8 430.1 1481 430 C1483.2 429.9 1485.8 433.7 1489 432 C1492.2 430.3 1496.5 424.1 1500 420 C1503.5 415.9 1507.1 410.4 1510 407.5 C1512.9 404.6 1515.4 402.1 1517.5 402.5 C1519.6 402.9 1520.8 406.2 1522.5 410 C1524.2 413.8 1525.6 420 1527.5 425 C1529.4 430 1531.8 436.2 1534 440 C1536.2 443.8 1538.3 447.3 1541 447.5 C1543.7 447.7 1547.2 444.3 1550 441 C1552.8 437.7 1555.7 432 1557.5 427.5 C1559.3 423 1559.9 419 1561 414 C1562.1 409 1563.5 400.2 1564 397.5" fill="none" stroke="#000" stroke-width="8.7" stroke-linejoin="round" stroke-linecap="butt"/>
<text x="221.2" y="265.6" text-anchor="end" font-size="29.5" fill="#4a4a4a">30</text>
<text x="221.2" y="357.1" text-anchor="end" font-size="29.5" fill="#4a4a4a">25</text>
<text x="221.2" y="448.7" text-anchor="end" font-size="29.5" fill="#4a4a4a">20</text>
<text x="221.2" y="540.3" text-anchor="end" font-size="29.5" fill="#4a4a4a">15</text>
<text x="221.2" y="631.8" text-anchor="end" font-size="29.5" fill="#4a4a4a">10</text>
<text x="221.2" y="723.4" text-anchor="end" font-size="29.5" fill="#4a4a4a">5</text>
<text x="221.2" y="816.1" text-anchor="end" font-size="29.5" fill="#4a4a4a">0</text>
<text x="221.2" y="906.5" text-anchor="end" font-size="29.5" fill="#4a4a4a">−5</text>
<text x="221.2" y="997.5" text-anchor="end" font-size="29.5" fill="#4a4a4a">−10</text>
<text id="ytitle" transform="translate(140.6 615.8) rotate(-90) scale(1.06 1)" text-anchor="middle" font-size="32" letter-spacing="1.05" fill="#4a4a4a">temperatura media (°C)</text>
</svg>
<div class="t" id="t1">Temperatura media giornaliera in Emilia-Romagna (anno 2025)</div>
<div class="t" id="t2">Il valore del 04/08/2025 è 21,70 °C, ed è inferiore alla norma 1991-2020</div>
<div class="t" id="t3">L'anomalia media dall'1/1/2025 è di 1,18 °C</div>

<svg id="logos" width="1919" height="260" viewBox="0 0 1919 260">
<g id="arpae">
<text transform="translate(1645.52 76.05) scale(0.5889 0.6133)" font-size="100" font-weight="bold" fill="#1d1d1d" stroke="#1d1d1d" stroke-width="1.83" stroke-linejoin="round">a</text>
<text transform="translate(1678.14 79.05) scale(0.7303 0.4660)" font-size="100" font-weight="bold" fill="#1d1d1d" stroke="#1d1d1d" stroke-width="1.84" stroke-linejoin="round">r</text>
<polygon points="1682.4,78 1692.6,78 1692.6,86.3 1682.4,79.6" fill="#1d1d1d"/>
<text transform="translate(1704.60 85.86) scale(0.6747 0.5915)" font-size="100" font-weight="bold" fill="#1d1d1d" stroke="#1d1d1d" stroke-width="1.74" stroke-linejoin="round">p</text>
<polygon points="1708.5,90.7 1718.9,90.7 1718.9,106.7 1708.5,97.8" fill="#1d1d1d"/>
<text transform="translate(1743.61 85.57) scale(0.5945 0.5914)" font-size="100" font-weight="bold" fill="#1aa64a" stroke="#1aa64a" stroke-width="1.86" stroke-linejoin="round">a</text>
<text transform="translate(1778.12 85.57) scale(0.6730 0.5914)" font-size="100" font-weight="bold" fill="#ee1d23" stroke="#ee1d23" stroke-width="1.74" stroke-linejoin="round">e</text>
<text x="1726.8" y="106.2" font-size="13.6" font-weight="bold" fill="#2b2b2b" textLength="124.5" lengthAdjust="spacingAndGlyphs">emilia-romagna</text>
</g>
<g id="mr">
<rect x="1596.6" y="138.6" width="286" height="96" fill="#fff" stroke="#2b3b5c" stroke-width="1.3"/>
<g font-weight="bold" fill="#232323" stroke="#232323" stroke-width="1.3" stroke-linejoin="round">
<text transform="translate(1617.3 176) scale(1 1.04)" font-size="32.5" textLength="80" lengthAdjust="spacingAndGlyphs">Mete</text>
<text transform="translate(1737.5 176) scale(1 1.04)" font-size="32.5" textLength="93" lengthAdjust="spacingAndGlyphs">Reggi</text>
</g>
<defs><radialGradient id="sga" cx="0.4" cy="0.35" r="0.75"><stop offset="0" stop-color="#ffe45c"/><stop offset="0.6" stop-color="#ffc61e"/><stop offset="1" stop-color="#f59a00"/></radialGradient></defs><polygon points="1712.6,181.3 1715.4,176.6 1709.8,176.6" fill="#f9b233" stroke="#f0a020" stroke-width="0.4"/><polygon points="1702.8,177.3 1708.2,175.9 1704.2,171.9" fill="#f9b233" stroke="#f0a020" stroke-width="0.4"/><polygon points="1698.8,167.5 1703.5,170.3 1703.5,164.7" fill="#f9b233" stroke="#f0a020" stroke-width="0.4"/><polygon points="1702.8,157.7 1704.2,163.1 1708.2,159.1" fill="#f9b233" stroke="#f0a020" stroke-width="0.4"/><polygon points="1712.6,153.7 1709.8,158.4 1715.4,158.4" fill="#f9b233" stroke="#f0a020" stroke-width="0.4"/><polygon points="1722.4,157.7 1717.0,159.1 1721.0,163.1" fill="#f9b233" stroke="#f0a020" stroke-width="0.4"/><polygon points="1726.4,167.5 1721.7,164.7 1721.7,170.3" fill="#f9b233" stroke="#f0a020" stroke-width="0.4"/><polygon points="1722.4,177.3 1721.0,171.9 1717.0,175.9" fill="#f9b233" stroke="#f0a020" stroke-width="0.4"/><circle cx="1712.6" cy="167.5" r="8.3" fill="url(#sga)" stroke="#f2a100" stroke-width="0.6"/>
<defs><radialGradient id="sgb" cx="0.4" cy="0.35" r="0.75"><stop offset="0" stop-color="#ffe45c"/><stop offset="0.6" stop-color="#ffc61e"/><stop offset="1" stop-color="#f59a00"/></radialGradient></defs><polygon points="1847.1,178.2 1849.8,174.0 1844.4,174.0" fill="#f9b233" stroke="#f0a020" stroke-width="0.4"/><polygon points="1838.0,174.5 1842.9,173.4 1839.1,169.6" fill="#f9b233" stroke="#f0a020" stroke-width="0.4"/><polygon points="1834.3,165.4 1838.5,168.1 1838.5,162.7" fill="#f9b233" stroke="#f0a020" stroke-width="0.4"/><polygon points="1838.0,156.3 1839.1,161.2 1842.9,157.4" fill="#f9b233" stroke="#f0a020" stroke-width="0.4"/><polygon points="1847.1,152.6 1844.4,156.8 1849.8,156.8" fill="#f9b233" stroke="#f0a020" stroke-width="0.4"/><polygon points="1856.2,156.3 1851.3,157.4 1855.1,161.2" fill="#f9b233" stroke="#f0a020" stroke-width="0.4"/><polygon points="1859.9,165.4 1855.7,162.7 1855.7,168.1" fill="#f9b233" stroke="#f0a020" stroke-width="0.4"/><polygon points="1856.2,174.5 1855.1,169.6 1851.3,173.4" fill="#f9b233" stroke="#f0a020" stroke-width="0.4"/><circle cx="1847.1" cy="165.4" r="7.8" fill="url(#sgb)" stroke="#f2a100" stroke-width="0.6"/>
<defs><linearGradient id="cg" x1="0" y1="0" x2="0" y2="1"><stop offset="0" stop-color="#e4f4fb"/><stop offset="0.55" stop-color="#b5e0f3"/><stop offset="1" stop-color="#7fc9ea"/></linearGradient></defs><g fill="url(#cg)"><ellipse cx="1849.1" cy="175.7" rx="9.6" ry="6.5"/><ellipse cx="1857.1" cy="172.2" rx="8.6" ry="7.7"/><ellipse cx="1865.1" cy="175.2" rx="6.4" ry="5.8"/><ellipse cx="1853.9" cy="180.0" rx="9.6" ry="5.2"/><ellipse cx="1861.3" cy="180.0" rx="8.0" ry="5.6"/></g>
<line x1="1619" y1="194.7" x2="1862" y2="194.7" stroke="#4472c4" stroke-width="2.3"/>
<text id="url" transform="translate(1613 217.4) scale(1.3 1)" font-size="19.2" font-style="italic" fill="#222" letter-spacing="1.55">www.meteoreggio.it</text>
</g>
</svg>

<div id="legend">
  <div class="sw" style="left:12.6px;top:12.6px;background:#b5d7a8;"></div>
  <div class="sw" style="left:11.7px;top:61.6px;width:95.4px;background:#ff0000;"></div>
  <div class="sw" style="left:12.6px;top:110.5px;background:#2a0ad8;"></div>
  <div class="lt" id="l1" style="left:146.4px;top:22.4px;transform:scaleX(1.04);">Normalità climatica</div>
  <div class="lt" id="l2" style="left:145.3px;top:70.4px;">Sopra la media climatica</div>
  <div class="lt" id="l3" style="left:146.6px;top:118.6px;transform:scaleX(1.022);">Sotto la media climatica</div>
</div>
</body>
</html>
